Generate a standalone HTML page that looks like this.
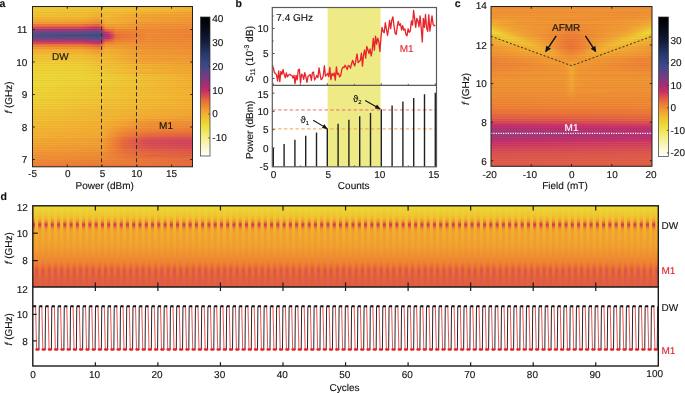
<!DOCTYPE html>
<html lang="en"><head><meta charset="utf-8"><title>Figure</title>
<style>html,body{margin:0;padding:0;background:#fff}svg{display:block}text{font-family:"Liberation Sans",Arial,Helvetica,sans-serif;text-rendering:geometricPrecision;stroke-width:0.13px;paint-order:stroke}</style>
</head><body>
<svg width="685" height="393" viewBox="0 0 685 393">
<defs>
<pattern id="hs" width="8" height="2.42" patternUnits="userSpaceOnUse"><rect width="8" height="1.21" fill="#d64a28" opacity="0.085"/><rect y="1.21" width="8" height="1.21" fill="#fff48a" opacity="0.07"/></pattern>
<linearGradient id="a0" x1="0" x2="1" y1="0" y2="0"><stop offset="0.000" stop-color="#eecc32"/><stop offset="0.435" stop-color="#efc331"/><stop offset="1.000" stop-color="#f2b12e"/></linearGradient>
<linearGradient id="a1" x1="0" x2="1" y1="0" y2="0"><stop offset="0.000" stop-color="#eece32"/><stop offset="0.413" stop-color="#efc231"/><stop offset="0.457" stop-color="#efc731"/><stop offset="1.000" stop-color="#f2b12e"/></linearGradient>
<linearGradient id="a2" x1="0" x2="1" y1="0" y2="0"><stop offset="0.000" stop-color="#efc631"/><stop offset="0.326" stop-color="#efc231"/><stop offset="0.413" stop-color="#f1b92f"/><stop offset="0.457" stop-color="#f0bf30"/><stop offset="1.000" stop-color="#f1a42f"/></linearGradient>
<linearGradient id="a3" x1="0" x2="1" y1="0" y2="0"><stop offset="0.000" stop-color="#efc231"/><stop offset="0.326" stop-color="#f0bd30"/><stop offset="0.413" stop-color="#f1b32f"/><stop offset="0.457" stop-color="#f0bd30"/><stop offset="0.696" stop-color="#f1a42f"/><stop offset="1.000" stop-color="#f09e30"/></linearGradient>
<linearGradient id="a4" x1="0" x2="1" y1="0" y2="0"><stop offset="0.000" stop-color="#f1b92f"/><stop offset="0.304" stop-color="#f1b72f"/><stop offset="0.413" stop-color="#f1a92e"/><stop offset="0.457" stop-color="#f1b82f"/><stop offset="0.696" stop-color="#f09f2f"/><stop offset="1.000" stop-color="#ef9830"/></linearGradient>
<linearGradient id="a5" x1="0" x2="1" y1="0" y2="0"><stop offset="0.000" stop-color="#f2ad2e"/><stop offset="0.304" stop-color="#f1aa2e"/><stop offset="0.413" stop-color="#ef9930"/><stop offset="0.457" stop-color="#f1b32f"/><stop offset="1.000" stop-color="#ef9530"/></linearGradient>
<linearGradient id="a6" x1="0" x2="1" y1="0" y2="0"><stop offset="0.000" stop-color="#f09b30"/><stop offset="0.304" stop-color="#ef9730"/><stop offset="0.413" stop-color="#ed8632"/><stop offset="0.457" stop-color="#f2b02e"/><stop offset="0.522" stop-color="#f2ad2e"/><stop offset="0.696" stop-color="#ef9a30"/><stop offset="1.000" stop-color="#ef9430"/></linearGradient>
<linearGradient id="a7" x1="0" x2="1" y1="0" y2="0"><stop offset="0.000" stop-color="#eb7733"/><stop offset="0.304" stop-color="#ea7334"/><stop offset="0.391" stop-color="#e2613f"/><stop offset="0.413" stop-color="#e16040"/><stop offset="0.435" stop-color="#ec7d33"/><stop offset="0.457" stop-color="#f0a02f"/><stop offset="0.500" stop-color="#f09e30"/><stop offset="0.522" stop-color="#f0a22f"/><stop offset="0.696" stop-color="#ee9331"/><stop offset="1.000" stop-color="#ee8d31"/></linearGradient>
<linearGradient id="a8" x1="0" x2="1" y1="0" y2="0"><stop offset="0.000" stop-color="#d24257"/><stop offset="0.304" stop-color="#cf3d5b"/><stop offset="0.391" stop-color="#c5296a"/><stop offset="0.413" stop-color="#c4296b"/><stop offset="0.435" stop-color="#db5449"/><stop offset="0.457" stop-color="#ed8b31"/><stop offset="0.500" stop-color="#ee8f31"/><stop offset="0.522" stop-color="#ef9830"/><stop offset="0.696" stop-color="#ee8f31"/><stop offset="1.000" stop-color="#ed8a31"/></linearGradient>
<linearGradient id="a9" x1="0" x2="1" y1="0" y2="0"><stop offset="0.000" stop-color="#91337a"/><stop offset="0.304" stop-color="#8d347b"/><stop offset="0.391" stop-color="#7a3a80"/><stop offset="0.413" stop-color="#7a3a80"/><stop offset="0.435" stop-color="#ac2b74"/><stop offset="0.457" stop-color="#e05d42"/><stop offset="0.478" stop-color="#e4653c"/><stop offset="0.500" stop-color="#ea7334"/><stop offset="0.522" stop-color="#ed8432"/><stop offset="0.696" stop-color="#ed8432"/><stop offset="0.717" stop-color="#ed8832"/><stop offset="1.000" stop-color="#ec8032"/></linearGradient>
<linearGradient id="a10" x1="0" x2="1" y1="0" y2="0"><stop offset="0.000" stop-color="#564387"/><stop offset="0.304" stop-color="#524488"/><stop offset="0.391" stop-color="#42488b"/><stop offset="0.413" stop-color="#41498b"/><stop offset="0.435" stop-color="#6e3d82"/><stop offset="0.457" stop-color="#c3266d"/><stop offset="0.478" stop-color="#cc385f"/><stop offset="0.522" stop-color="#eb7733"/><stop offset="0.696" stop-color="#ed8432"/><stop offset="0.717" stop-color="#ed8932"/><stop offset="1.000" stop-color="#ec8132"/></linearGradient>
<linearGradient id="a11" x1="0" x2="1" y1="0" y2="0"><stop offset="0.000" stop-color="#3d498c"/><stop offset="0.413" stop-color="#344481"/><stop offset="0.435" stop-color="#4e4588"/><stop offset="0.457" stop-color="#9d2f77"/><stop offset="0.478" stop-color="#b52871"/><stop offset="0.500" stop-color="#d14158"/><stop offset="0.522" stop-color="#e96d36"/><stop offset="0.696" stop-color="#ed8332"/><stop offset="0.717" stop-color="#ed8932"/><stop offset="1.000" stop-color="#ec8132"/></linearGradient>
<linearGradient id="a12" x1="0" x2="1" y1="0" y2="0"><stop offset="0.000" stop-color="#564387"/><stop offset="0.304" stop-color="#524488"/><stop offset="0.391" stop-color="#42488b"/><stop offset="0.413" stop-color="#3b4a8c"/><stop offset="0.435" stop-color="#614085"/><stop offset="0.457" stop-color="#af2a73"/><stop offset="0.478" stop-color="#c0256f"/><stop offset="0.500" stop-color="#d44654"/><stop offset="0.522" stop-color="#e96f35"/><stop offset="0.696" stop-color="#ed8432"/><stop offset="0.717" stop-color="#ed8932"/><stop offset="1.000" stop-color="#ec8232"/></linearGradient>
<linearGradient id="a13" x1="0" x2="1" y1="0" y2="0"><stop offset="0.000" stop-color="#963179"/><stop offset="0.304" stop-color="#91337a"/><stop offset="0.391" stop-color="#7e397f"/><stop offset="0.413" stop-color="#763b81"/><stop offset="0.435" stop-color="#9f2f77"/><stop offset="0.457" stop-color="#d74d4f"/><stop offset="0.478" stop-color="#da524b"/><stop offset="0.500" stop-color="#e4653d"/><stop offset="0.522" stop-color="#ec7d33"/><stop offset="0.696" stop-color="#ed8832"/><stop offset="1.000" stop-color="#ed8532"/></linearGradient>
<linearGradient id="a14" x1="0" x2="1" y1="0" y2="0"><stop offset="0.000" stop-color="#d14158"/><stop offset="0.304" stop-color="#cf3c5c"/><stop offset="0.391" stop-color="#c4286b"/><stop offset="0.413" stop-color="#bd256f"/><stop offset="0.435" stop-color="#d34555"/><stop offset="0.457" stop-color="#ec7f33"/><stop offset="0.478" stop-color="#ec7e33"/><stop offset="0.500" stop-color="#ec8232"/><stop offset="0.522" stop-color="#ee8e31"/><stop offset="0.696" stop-color="#ee8d31"/><stop offset="1.000" stop-color="#ed8932"/></linearGradient>
<linearGradient id="a15" x1="0" x2="1" y1="0" y2="0"><stop offset="0.000" stop-color="#eb7833"/><stop offset="0.304" stop-color="#ea7434"/><stop offset="0.391" stop-color="#e26140"/><stop offset="0.413" stop-color="#de5946"/><stop offset="0.435" stop-color="#eb7534"/><stop offset="0.457" stop-color="#ef9930"/><stop offset="0.500" stop-color="#ef9530"/><stop offset="0.522" stop-color="#ef9a30"/><stop offset="0.696" stop-color="#ee8f31"/><stop offset="1.000" stop-color="#ed8a31"/></linearGradient>
<linearGradient id="a16" x1="0" x2="1" y1="0" y2="0"><stop offset="0.000" stop-color="#ef9730"/><stop offset="0.304" stop-color="#ee9331"/><stop offset="0.413" stop-color="#ec7d33"/><stop offset="0.435" stop-color="#ee8f31"/><stop offset="0.457" stop-color="#f1a72f"/><stop offset="0.500" stop-color="#f0a12f"/><stop offset="0.696" stop-color="#ee9131"/><stop offset="1.000" stop-color="#ee8c31"/></linearGradient>
<linearGradient id="a17" x1="0" x2="1" y1="0" y2="0"><stop offset="0.000" stop-color="#f2af2e"/><stop offset="0.304" stop-color="#f2ab2e"/><stop offset="0.413" stop-color="#ef9730"/><stop offset="0.457" stop-color="#f2b22e"/><stop offset="0.696" stop-color="#ef9730"/><stop offset="1.000" stop-color="#ee9131"/></linearGradient>
<linearGradient id="a18" x1="0" x2="1" y1="0" y2="0"><stop offset="0.000" stop-color="#f1b82f"/><stop offset="0.304" stop-color="#f1b52f"/><stop offset="0.413" stop-color="#f1a42f"/><stop offset="0.457" stop-color="#f1b42f"/><stop offset="0.696" stop-color="#ef9830"/><stop offset="1.000" stop-color="#ee9131"/></linearGradient>
<linearGradient id="a19" x1="0" x2="1" y1="0" y2="0"><stop offset="0.000" stop-color="#efc231"/><stop offset="0.304" stop-color="#f0c030"/><stop offset="0.413" stop-color="#f2b12e"/><stop offset="0.457" stop-color="#f0ba30"/><stop offset="0.696" stop-color="#f09e30"/><stop offset="1.000" stop-color="#ef9730"/></linearGradient>
<linearGradient id="a20" x1="0" x2="1" y1="0" y2="0"><stop offset="0.000" stop-color="#efc831"/><stop offset="0.326" stop-color="#efc331"/><stop offset="0.413" stop-color="#f1b82f"/><stop offset="0.457" stop-color="#f0bd30"/><stop offset="0.696" stop-color="#f0a02f"/><stop offset="1.000" stop-color="#ef9930"/></linearGradient>
<linearGradient id="a21" x1="0" x2="1" y1="0" y2="0"><stop offset="0.000" stop-color="#eeca32"/><stop offset="0.326" stop-color="#efc531"/><stop offset="0.413" stop-color="#f0ba30"/><stop offset="0.457" stop-color="#f0bd30"/><stop offset="0.696" stop-color="#f09f2f"/><stop offset="1.000" stop-color="#ef9830"/></linearGradient>
<linearGradient id="a22" x1="0" x2="1" y1="0" y2="0"><stop offset="0.000" stop-color="#eecf32"/><stop offset="0.304" stop-color="#eecd32"/><stop offset="0.413" stop-color="#f0bf30"/><stop offset="0.457" stop-color="#f0c130"/><stop offset="0.696" stop-color="#f1a42f"/><stop offset="1.000" stop-color="#f09d30"/></linearGradient>
<linearGradient id="a23" x1="0" x2="1" y1="0" y2="0"><stop offset="0.000" stop-color="#edd433"/><stop offset="0.304" stop-color="#edd233"/><stop offset="0.413" stop-color="#efc531"/><stop offset="1.000" stop-color="#f1a32f"/></linearGradient>
<linearGradient id="a24" x1="0" x2="1" y1="0" y2="0"><stop offset="0.000" stop-color="#edd633"/><stop offset="0.304" stop-color="#edd433"/><stop offset="0.696" stop-color="#f2ac2e"/><stop offset="1.000" stop-color="#f1a52f"/></linearGradient>
<linearGradient id="a25" x1="0" x2="1" y1="0" y2="0"><stop offset="0.000" stop-color="#edd733"/><stop offset="0.326" stop-color="#edd233"/><stop offset="1.000" stop-color="#f1a62f"/></linearGradient>
<linearGradient id="a26" x1="0" x2="1" y1="0" y2="0"><stop offset="0.000" stop-color="#edd633"/><stop offset="0.304" stop-color="#edd433"/><stop offset="0.696" stop-color="#f2ad2e"/><stop offset="1.000" stop-color="#f1a72f"/></linearGradient>
<linearGradient id="a27" x1="0" x2="1" y1="0" y2="0"><stop offset="0.000" stop-color="#ecda34"/><stop offset="0.326" stop-color="#edd633"/><stop offset="1.000" stop-color="#f2ae2e"/></linearGradient>
<linearGradient id="a28" x1="0" x2="1" y1="0" y2="0"><stop offset="0.000" stop-color="#ecdb34"/><stop offset="0.304" stop-color="#ecd934"/><stop offset="1.000" stop-color="#f2b02e"/></linearGradient>
<linearGradient id="a29" x1="0" x2="1" y1="0" y2="0"><stop offset="0.000" stop-color="#ecd934"/><stop offset="0.370" stop-color="#edd133"/><stop offset="1.000" stop-color="#f2ae2e"/></linearGradient>
<linearGradient id="a30" x1="0" x2="1" y1="0" y2="0"><stop offset="0.000" stop-color="#ecdd36"/><stop offset="0.391" stop-color="#edd333"/><stop offset="1.000" stop-color="#f1b22f"/></linearGradient>
<linearGradient id="a31" x1="0" x2="1" y1="0" y2="0"><stop offset="0.000" stop-color="#ecdc34"/><stop offset="0.457" stop-color="#eecd32"/><stop offset="1.000" stop-color="#f2b12e"/></linearGradient>
<linearGradient id="a32" x1="0" x2="1" y1="0" y2="0"><stop offset="0.000" stop-color="#ecd934"/><stop offset="0.457" stop-color="#eeca32"/><stop offset="1.000" stop-color="#f2b02e"/></linearGradient>
<linearGradient id="a33" x1="0" x2="1" y1="0" y2="0"><stop offset="0.000" stop-color="#edd833"/><stop offset="1.000" stop-color="#f2b12e"/></linearGradient>
<linearGradient id="a34" x1="0" x2="1" y1="0" y2="0"><stop offset="0.000" stop-color="#edd733"/><stop offset="0.457" stop-color="#eeca32"/><stop offset="1.000" stop-color="#f2b22e"/></linearGradient>
<linearGradient id="a35" x1="0" x2="1" y1="0" y2="0"><stop offset="0.000" stop-color="#edd433"/><stop offset="0.457" stop-color="#efc831"/><stop offset="1.000" stop-color="#f2b12e"/></linearGradient>
<linearGradient id="a36" x1="0" x2="1" y1="0" y2="0"><stop offset="0.000" stop-color="#edd733"/><stop offset="1.000" stop-color="#f1b42f"/></linearGradient>
<linearGradient id="a37" x1="0" x2="1" y1="0" y2="0"><stop offset="0.000" stop-color="#edd133"/><stop offset="1.000" stop-color="#f2ae2e"/></linearGradient>
<linearGradient id="a38" x1="0" x2="1" y1="0" y2="0"><stop offset="0.000" stop-color="#edd233"/><stop offset="1.000" stop-color="#f2b12e"/></linearGradient>
<linearGradient id="a39" x1="0" x2="1" y1="0" y2="0"><stop offset="0.000" stop-color="#eed032"/><stop offset="1.000" stop-color="#f2b12e"/></linearGradient>
<linearGradient id="a40" x1="0" x2="1" y1="0" y2="0"><stop offset="0.000" stop-color="#eecb32"/><stop offset="1.000" stop-color="#f2ab2e"/></linearGradient>
<linearGradient id="a41" x1="0" x2="1" y1="0" y2="0"><stop offset="0.000" stop-color="#efc731"/><stop offset="1.000" stop-color="#f1a82f"/></linearGradient>
<linearGradient id="a42" x1="0" x2="1" y1="0" y2="0"><stop offset="0.000" stop-color="#efc731"/><stop offset="1.000" stop-color="#f1a72f"/></linearGradient>
<linearGradient id="a43" x1="0" x2="1" y1="0" y2="0"><stop offset="0.000" stop-color="#efc631"/><stop offset="1.000" stop-color="#f1a42f"/></linearGradient>
<linearGradient id="a44" x1="0" x2="1" y1="0" y2="0"><stop offset="0.000" stop-color="#f0c130"/><stop offset="0.478" stop-color="#f1b62f"/><stop offset="1.000" stop-color="#f09d30"/></linearGradient>
<linearGradient id="a45" x1="0" x2="1" y1="0" y2="0"><stop offset="0.000" stop-color="#f0bf30"/><stop offset="0.457" stop-color="#f1b62f"/><stop offset="0.717" stop-color="#f09b30"/><stop offset="1.000" stop-color="#ef9730"/></linearGradient>
<linearGradient id="a46" x1="0" x2="1" y1="0" y2="0"><stop offset="0.000" stop-color="#f0ba30"/><stop offset="0.457" stop-color="#f2b02e"/><stop offset="0.717" stop-color="#ee9131"/><stop offset="1.000" stop-color="#ee8d31"/></linearGradient>
<linearGradient id="a47" x1="0" x2="1" y1="0" y2="0"><stop offset="0.000" stop-color="#f1b92f"/><stop offset="0.457" stop-color="#f2af2e"/><stop offset="0.717" stop-color="#ee8c31"/><stop offset="1.000" stop-color="#ed8832"/></linearGradient>
<linearGradient id="a48" x1="0" x2="1" y1="0" y2="0"><stop offset="0.000" stop-color="#f1b72f"/><stop offset="0.435" stop-color="#f2b02e"/><stop offset="0.587" stop-color="#ee9231"/><stop offset="1.000" stop-color="#ec8132"/></linearGradient>
<linearGradient id="a49" x1="0" x2="1" y1="0" y2="0"><stop offset="0.000" stop-color="#f1b32f"/><stop offset="0.435" stop-color="#f2ab2e"/><stop offset="0.609" stop-color="#ed8532"/><stop offset="1.000" stop-color="#eb7434"/></linearGradient>
<linearGradient id="a50" x1="0" x2="1" y1="0" y2="0"><stop offset="0.000" stop-color="#f1b32f"/><stop offset="0.435" stop-color="#f2ac2e"/><stop offset="0.565" stop-color="#ed8532"/><stop offset="0.739" stop-color="#ea7134"/><stop offset="1.000" stop-color="#e76b38"/></linearGradient>
<linearGradient id="a51" x1="0" x2="1" y1="0" y2="0"><stop offset="0.000" stop-color="#f2b22e"/><stop offset="0.435" stop-color="#f1aa2e"/><stop offset="0.565" stop-color="#ec7d33"/><stop offset="0.652" stop-color="#ea7034"/><stop offset="0.717" stop-color="#e4653c"/><stop offset="1.000" stop-color="#e05d42"/></linearGradient>
<linearGradient id="a52" x1="0" x2="1" y1="0" y2="0"><stop offset="0.000" stop-color="#f2ac2e"/><stop offset="0.435" stop-color="#f1a32f"/><stop offset="0.565" stop-color="#e96f35"/><stop offset="0.717" stop-color="#da524b"/><stop offset="1.000" stop-color="#d64a51"/></linearGradient>
<linearGradient id="a53" x1="0" x2="1" y1="0" y2="0"><stop offset="0.000" stop-color="#f1a82f"/><stop offset="0.435" stop-color="#f09f2f"/><stop offset="0.543" stop-color="#ea7234"/><stop offset="0.565" stop-color="#e5663c"/><stop offset="0.717" stop-color="#d44753"/><stop offset="1.000" stop-color="#d03e5a"/></linearGradient>
<linearGradient id="a54" x1="0" x2="1" y1="0" y2="0"><stop offset="0.000" stop-color="#f1a62f"/><stop offset="0.435" stop-color="#f09e30"/><stop offset="0.543" stop-color="#ea7034"/><stop offset="0.565" stop-color="#e4643d"/><stop offset="0.717" stop-color="#d34555"/><stop offset="1.000" stop-color="#cf3c5b"/></linearGradient>
<linearGradient id="a55" x1="0" x2="1" y1="0" y2="0"><stop offset="0.000" stop-color="#f1a42f"/><stop offset="0.435" stop-color="#f09c30"/><stop offset="0.543" stop-color="#ea7134"/><stop offset="0.565" stop-color="#e5663b"/><stop offset="0.717" stop-color="#d64a51"/><stop offset="1.000" stop-color="#d24257"/></linearGradient>
<linearGradient id="a56" x1="0" x2="1" y1="0" y2="0"><stop offset="0.000" stop-color="#f09d30"/><stop offset="0.435" stop-color="#ef9630"/><stop offset="0.543" stop-color="#ea7134"/><stop offset="0.565" stop-color="#e5673b"/><stop offset="0.717" stop-color="#d84e4e"/><stop offset="1.000" stop-color="#d44654"/></linearGradient>
<linearGradient id="a57" x1="0" x2="1" y1="0" y2="0"><stop offset="0.000" stop-color="#f09d30"/><stop offset="0.435" stop-color="#ef9630"/><stop offset="0.565" stop-color="#ea7034"/><stop offset="0.739" stop-color="#df5a45"/><stop offset="1.000" stop-color="#dc5449"/></linearGradient>
<linearGradient id="a58" x1="0" x2="1" y1="0" y2="0"><stop offset="0.000" stop-color="#ef9331"/><stop offset="0.435" stop-color="#ee8d31"/><stop offset="0.587" stop-color="#e76a38"/><stop offset="1.000" stop-color="#dc5548"/></linearGradient>
<linearGradient id="a59" x1="0" x2="1" y1="0" y2="0"><stop offset="0.000" stop-color="#ee8f31"/><stop offset="0.435" stop-color="#ed8932"/><stop offset="0.717" stop-color="#e26040"/><stop offset="1.000" stop-color="#df5c44"/></linearGradient>
<linearGradient id="a60" x1="0" x2="1" y1="0" y2="0"><stop offset="0.000" stop-color="#ee8f31"/><stop offset="0.457" stop-color="#ed8832"/><stop offset="0.587" stop-color="#ea7334"/><stop offset="1.000" stop-color="#e4653c"/></linearGradient>
<linearGradient id="a61" x1="0" x2="1" y1="0" y2="0"><stop offset="0.000" stop-color="#ed8732"/><stop offset="0.457" stop-color="#ec8032"/><stop offset="1.000" stop-color="#e3643d"/></linearGradient>
<linearGradient id="a62" x1="0" x2="1" y1="0" y2="0"><stop offset="0.000" stop-color="#ed8432"/><stop offset="0.478" stop-color="#ec7e33"/><stop offset="1.000" stop-color="#e76a39"/></linearGradient>
<linearGradient id="a63" x1="0" x2="1" y1="0" y2="0"><stop offset="0.000" stop-color="#ec7c33"/><stop offset="1.000" stop-color="#e5673b"/></linearGradient>
<linearGradient id="cba" x1="0" x2="0" y1="0" y2="1"><stop offset="0.000" stop-color="#000000"/><stop offset="0.033" stop-color="#020308"/><stop offset="0.067" stop-color="#050813"/><stop offset="0.100" stop-color="#090d1e"/><stop offset="0.133" stop-color="#0e142b"/><stop offset="0.167" stop-color="#121a37"/><stop offset="0.200" stop-color="#192348"/><stop offset="0.233" stop-color="#212e5a"/><stop offset="0.267" stop-color="#28386d"/><stop offset="0.300" stop-color="#303f79"/><stop offset="0.333" stop-color="#374686"/><stop offset="0.367" stop-color="#47478a"/><stop offset="0.400" stop-color="#604185"/><stop offset="0.433" stop-color="#783a80"/><stop offset="0.467" stop-color="#94327a"/><stop offset="0.500" stop-color="#b02a72"/><stop offset="0.533" stop-color="#c82f66"/><stop offset="0.567" stop-color="#d74c4f"/><stop offset="0.600" stop-color="#e76a39"/><stop offset="0.633" stop-color="#ec8332"/><stop offset="0.667" stop-color="#f09b30"/><stop offset="0.700" stop-color="#f1b22f"/><stop offset="0.733" stop-color="#efc431"/><stop offset="0.767" stop-color="#edd633"/><stop offset="0.800" stop-color="#eee149"/><stop offset="0.833" stop-color="#f2e869"/><stop offset="0.867" stop-color="#f5ef89"/><stop offset="0.900" stop-color="#f8f3a9"/><stop offset="0.933" stop-color="#faf7c9"/><stop offset="0.967" stop-color="#fdfbe4"/><stop offset="1.000" stop-color="#ffffff"/></linearGradient>
<marker id="ah2" viewBox="0 0 10 10" refX="8" refY="5" markerWidth="4.4" markerHeight="4.2" orient="auto"><path d="M0,0.3 L10,5 L0,9.7 Z" fill="#111"/></marker>
<marker id="ah" viewBox="0 0 10 10" refX="9" refY="5" markerWidth="5" markerHeight="5" orient="auto"><path d="M0,0.8 L10,5 L0,9.2 Z" fill="#111"/></marker>
<linearGradient id="c0" x1="0" x2="1" y1="0" y2="0"><stop offset="0.000" stop-color="#ee8c31"/><stop offset="1.000" stop-color="#ee8c31"/></linearGradient>
<linearGradient id="c1" x1="0" x2="1" y1="0" y2="0"><stop offset="0.000" stop-color="#ee9231"/><stop offset="1.000" stop-color="#ee9231"/></linearGradient>
<linearGradient id="c2" x1="0" x2="1" y1="0" y2="0"><stop offset="0.000" stop-color="#ee9131"/><stop offset="0.925" stop-color="#ee8d31"/><stop offset="1.000" stop-color="#ee9231"/></linearGradient>
<linearGradient id="c3" x1="0" x2="1" y1="0" y2="0"><stop offset="0.000" stop-color="#ef9530"/><stop offset="0.900" stop-color="#ee8e31"/><stop offset="1.000" stop-color="#ef9530"/></linearGradient>
<linearGradient id="c4" x1="0" x2="1" y1="0" y2="0"><stop offset="0.000" stop-color="#ef9730"/><stop offset="0.900" stop-color="#ee8e31"/><stop offset="1.000" stop-color="#ef9830"/></linearGradient>
<linearGradient id="c5" x1="0" x2="1" y1="0" y2="0"><stop offset="0.000" stop-color="#f1a22f"/><stop offset="0.525" stop-color="#ed8a31"/><stop offset="0.975" stop-color="#f09e30"/><stop offset="1.000" stop-color="#f1a32f"/></linearGradient>
<linearGradient id="c6" x1="0" x2="1" y1="0" y2="0"><stop offset="0.000" stop-color="#f2ad2e"/><stop offset="0.175" stop-color="#ef9430"/><stop offset="0.875" stop-color="#ef9830"/><stop offset="1.000" stop-color="#f2ad2e"/></linearGradient>
<linearGradient id="c7" x1="0" x2="1" y1="0" y2="0"><stop offset="0.000" stop-color="#f1b52f"/><stop offset="0.075" stop-color="#f0a02f"/><stop offset="0.525" stop-color="#ed8832"/><stop offset="0.900" stop-color="#f09c30"/><stop offset="1.000" stop-color="#f1b52f"/></linearGradient>
<linearGradient id="c8" x1="0" x2="1" y1="0" y2="0"><stop offset="0.000" stop-color="#efc731"/><stop offset="0.050" stop-color="#f1b22f"/><stop offset="0.175" stop-color="#ef9930"/><stop offset="0.575" stop-color="#ee8b31"/><stop offset="0.850" stop-color="#f09c30"/><stop offset="0.975" stop-color="#f0bb30"/><stop offset="1.000" stop-color="#efc831"/></linearGradient>
<linearGradient id="c9" x1="0" x2="1" y1="0" y2="0"><stop offset="0.000" stop-color="#ecdc35"/><stop offset="0.050" stop-color="#f0bf30"/><stop offset="0.125" stop-color="#f1a52f"/><stop offset="0.500" stop-color="#ed8532"/><stop offset="0.825" stop-color="#f09c30"/><stop offset="0.925" stop-color="#f1b52f"/><stop offset="0.975" stop-color="#eecd32"/><stop offset="1.000" stop-color="#ecdc35"/></linearGradient>
<linearGradient id="c10" x1="0" x2="1" y1="0" y2="0"><stop offset="0.000" stop-color="#edd733"/><stop offset="0.025" stop-color="#ecdc34"/><stop offset="0.050" stop-color="#edd333"/><stop offset="0.100" stop-color="#f1b82f"/><stop offset="0.200" stop-color="#f09d30"/><stop offset="0.500" stop-color="#ec8132"/><stop offset="0.825" stop-color="#f0a22f"/><stop offset="0.900" stop-color="#f1b92f"/><stop offset="0.950" stop-color="#edd333"/><stop offset="0.975" stop-color="#ecdc34"/><stop offset="1.000" stop-color="#edd733"/></linearGradient>
<linearGradient id="c11" x1="0" x2="1" y1="0" y2="0"><stop offset="0.000" stop-color="#f0bf30"/><stop offset="0.050" stop-color="#edd133"/><stop offset="0.075" stop-color="#edd233"/><stop offset="0.175" stop-color="#f1a82f"/><stop offset="0.275" stop-color="#ef9530"/><stop offset="0.500" stop-color="#eb7a33"/><stop offset="0.800" stop-color="#f0a22f"/><stop offset="0.875" stop-color="#f0bb30"/><stop offset="0.925" stop-color="#edd233"/><stop offset="0.950" stop-color="#edd233"/><stop offset="1.000" stop-color="#f0c030"/></linearGradient>
<linearGradient id="c12" x1="0" x2="1" y1="0" y2="0"><stop offset="0.000" stop-color="#f1b42f"/><stop offset="0.100" stop-color="#eecf32"/><stop offset="0.125" stop-color="#eecc32"/><stop offset="0.225" stop-color="#f1a72f"/><stop offset="0.475" stop-color="#eb7b33"/><stop offset="0.525" stop-color="#eb7b33"/><stop offset="0.775" stop-color="#f1a82f"/><stop offset="0.850" stop-color="#f0c130"/><stop offset="0.875" stop-color="#eecc32"/><stop offset="0.900" stop-color="#eecf32"/><stop offset="1.000" stop-color="#f1b52f"/></linearGradient>
<linearGradient id="c13" x1="0" x2="1" y1="0" y2="0"><stop offset="0.000" stop-color="#f1a92e"/><stop offset="0.125" stop-color="#efc531"/><stop offset="0.150" stop-color="#efc731"/><stop offset="0.325" stop-color="#ef9830"/><stop offset="0.425" stop-color="#ec8332"/><stop offset="0.475" stop-color="#eb7533"/><stop offset="0.525" stop-color="#eb7533"/><stop offset="0.625" stop-color="#ee9031"/><stop offset="0.725" stop-color="#f0a22f"/><stop offset="0.825" stop-color="#efc331"/><stop offset="0.850" stop-color="#efc731"/><stop offset="0.875" stop-color="#efc531"/><stop offset="1.000" stop-color="#f1aa2e"/></linearGradient>
<linearGradient id="c14" x1="0" x2="1" y1="0" y2="0"><stop offset="0.000" stop-color="#f1a52f"/><stop offset="0.175" stop-color="#efc331"/><stop offset="0.200" stop-color="#efc431"/><stop offset="0.475" stop-color="#eb7633"/><stop offset="0.500" stop-color="#ea7334"/><stop offset="0.550" stop-color="#ec7d33"/><stop offset="0.800" stop-color="#efc431"/><stop offset="1.000" stop-color="#f1a52f"/></linearGradient>
<linearGradient id="c15" x1="0" x2="1" y1="0" y2="0"><stop offset="0.000" stop-color="#f09e30"/><stop offset="0.225" stop-color="#f0bd30"/><stop offset="0.250" stop-color="#f0bc30"/><stop offset="0.475" stop-color="#eb7434"/><stop offset="0.500" stop-color="#ea7134"/><stop offset="0.525" stop-color="#eb7434"/><stop offset="0.750" stop-color="#f0bc30"/><stop offset="0.775" stop-color="#f0be30"/><stop offset="1.000" stop-color="#f09e30"/></linearGradient>
<linearGradient id="c16" x1="0" x2="1" y1="0" y2="0"><stop offset="0.000" stop-color="#ef9430"/><stop offset="0.175" stop-color="#f1a52f"/><stop offset="0.250" stop-color="#f1b32f"/><stop offset="0.300" stop-color="#f2b12e"/><stop offset="0.475" stop-color="#ea7234"/><stop offset="0.500" stop-color="#e96e35"/><stop offset="0.575" stop-color="#ec8332"/><stop offset="0.700" stop-color="#f2b12e"/><stop offset="0.725" stop-color="#f1b52f"/><stop offset="1.000" stop-color="#ef9530"/></linearGradient>
<linearGradient id="c17" x1="0" x2="1" y1="0" y2="0"><stop offset="0.000" stop-color="#ef9530"/><stop offset="0.300" stop-color="#f1b32f"/><stop offset="0.350" stop-color="#f2ad2e"/><stop offset="0.450" stop-color="#ed8432"/><stop offset="0.500" stop-color="#eb7933"/><stop offset="0.550" stop-color="#ed8432"/><stop offset="0.650" stop-color="#f2ad2e"/><stop offset="0.700" stop-color="#f1b32f"/><stop offset="1.000" stop-color="#ef9630"/></linearGradient>
<linearGradient id="c18" x1="0" x2="1" y1="0" y2="0"><stop offset="0.000" stop-color="#ee9131"/><stop offset="0.350" stop-color="#f2ad2e"/><stop offset="0.375" stop-color="#f1a92f"/><stop offset="0.475" stop-color="#ed8532"/><stop offset="0.500" stop-color="#ec8132"/><stop offset="0.550" stop-color="#ee8c31"/><stop offset="0.625" stop-color="#f1a92e"/><stop offset="0.650" stop-color="#f2ad2e"/><stop offset="1.000" stop-color="#ee9231"/></linearGradient>
<linearGradient id="c19" x1="0" x2="1" y1="0" y2="0"><stop offset="0.000" stop-color="#ee8e31"/><stop offset="0.375" stop-color="#f1a62f"/><stop offset="0.400" stop-color="#f1a42f"/><stop offset="0.475" stop-color="#ee8f31"/><stop offset="0.500" stop-color="#ee8b31"/><stop offset="0.600" stop-color="#f1a42f"/><stop offset="0.675" stop-color="#f1a52f"/><stop offset="1.000" stop-color="#ee8e31"/></linearGradient>
<linearGradient id="c20" x1="0" x2="1" y1="0" y2="0"><stop offset="0.000" stop-color="#ed8532"/><stop offset="0.400" stop-color="#f09c30"/><stop offset="0.500" stop-color="#ee9031"/><stop offset="0.625" stop-color="#f09d30"/><stop offset="0.975" stop-color="#ed8532"/><stop offset="1.000" stop-color="#ed8632"/></linearGradient>
<linearGradient id="c21" x1="0" x2="1" y1="0" y2="0"><stop offset="0.000" stop-color="#ec8232"/><stop offset="0.400" stop-color="#ef9930"/><stop offset="0.725" stop-color="#ee9331"/><stop offset="0.950" stop-color="#ec8132"/><stop offset="1.000" stop-color="#ec8332"/></linearGradient>
<linearGradient id="c22" x1="0" x2="1" y1="0" y2="0"><stop offset="0.000" stop-color="#ec8332"/><stop offset="0.150" stop-color="#ed8532"/><stop offset="0.400" stop-color="#ef9a30"/><stop offset="0.475" stop-color="#f09c30"/><stop offset="0.500" stop-color="#f0a12f"/><stop offset="0.575" stop-color="#ef9930"/><stop offset="0.950" stop-color="#ec8232"/><stop offset="1.000" stop-color="#ed8432"/></linearGradient>
<linearGradient id="c23" x1="0" x2="1" y1="0" y2="0"><stop offset="0.000" stop-color="#ec7f33"/><stop offset="0.175" stop-color="#ec8332"/><stop offset="0.450" stop-color="#ef9530"/><stop offset="0.475" stop-color="#ef9930"/><stop offset="0.500" stop-color="#f0a22f"/><stop offset="0.525" stop-color="#ef9930"/><stop offset="0.950" stop-color="#ec7e33"/><stop offset="1.000" stop-color="#ec8032"/></linearGradient>
<linearGradient id="c24" x1="0" x2="1" y1="0" y2="0"><stop offset="0.000" stop-color="#ec8332"/><stop offset="0.450" stop-color="#ef9530"/><stop offset="0.475" stop-color="#f09b30"/><stop offset="0.500" stop-color="#f1a82f"/><stop offset="0.525" stop-color="#f09b30"/><stop offset="0.550" stop-color="#ef9530"/><stop offset="0.950" stop-color="#ec8232"/><stop offset="1.000" stop-color="#ed8432"/></linearGradient>
<linearGradient id="c25" x1="0" x2="1" y1="0" y2="0"><stop offset="0.000" stop-color="#ed8632"/><stop offset="0.450" stop-color="#ef9331"/><stop offset="0.475" stop-color="#ef9930"/><stop offset="0.500" stop-color="#f1a82f"/><stop offset="0.525" stop-color="#ef9a30"/><stop offset="0.550" stop-color="#ef9431"/><stop offset="1.000" stop-color="#ed8732"/></linearGradient>
<linearGradient id="c26" x1="0" x2="1" y1="0" y2="0"><stop offset="0.000" stop-color="#ee8d31"/><stop offset="0.450" stop-color="#ef9630"/><stop offset="0.475" stop-color="#f09c30"/><stop offset="0.500" stop-color="#f2ab2e"/><stop offset="0.525" stop-color="#f09c30"/><stop offset="0.550" stop-color="#ef9630"/><stop offset="1.000" stop-color="#ee8e31"/></linearGradient>
<linearGradient id="c27" x1="0" x2="1" y1="0" y2="0"><stop offset="0.000" stop-color="#ed8b31"/><stop offset="0.450" stop-color="#ee9131"/><stop offset="0.475" stop-color="#ef9730"/><stop offset="0.500" stop-color="#f1a52f"/><stop offset="0.525" stop-color="#ef9730"/><stop offset="0.550" stop-color="#ee9131"/><stop offset="1.000" stop-color="#ee8c31"/></linearGradient>
<linearGradient id="c28" x1="0" x2="1" y1="0" y2="0"><stop offset="0.000" stop-color="#ee9031"/><stop offset="0.450" stop-color="#ef9431"/><stop offset="0.475" stop-color="#ef9930"/><stop offset="0.500" stop-color="#f1a82f"/><stop offset="0.525" stop-color="#ef9930"/><stop offset="0.575" stop-color="#ef9331"/><stop offset="1.000" stop-color="#ee9131"/></linearGradient>
<linearGradient id="c29" x1="0" x2="1" y1="0" y2="0"><stop offset="0.000" stop-color="#ee9131"/><stop offset="0.450" stop-color="#ef9431"/><stop offset="0.475" stop-color="#ef9a30"/><stop offset="0.500" stop-color="#f1a82f"/><stop offset="0.525" stop-color="#ef9a30"/><stop offset="0.550" stop-color="#ef9431"/><stop offset="1.000" stop-color="#ee9231"/></linearGradient>
<linearGradient id="c30" x1="0" x2="1" y1="0" y2="0"><stop offset="0.000" stop-color="#ee9231"/><stop offset="0.450" stop-color="#ef9431"/><stop offset="0.475" stop-color="#ef9a30"/><stop offset="0.500" stop-color="#f1a82f"/><stop offset="0.525" stop-color="#ef9a30"/><stop offset="0.550" stop-color="#ef9431"/><stop offset="1.000" stop-color="#ef9331"/></linearGradient>
<linearGradient id="c31" x1="0" x2="1" y1="0" y2="0"><stop offset="0.000" stop-color="#ee9131"/><stop offset="0.450" stop-color="#ee9231"/><stop offset="0.475" stop-color="#ef9830"/><stop offset="0.500" stop-color="#f1a62f"/><stop offset="0.525" stop-color="#ef9830"/><stop offset="0.600" stop-color="#ee9231"/><stop offset="1.000" stop-color="#ee9231"/></linearGradient>
<linearGradient id="c32" x1="0" x2="1" y1="0" y2="0"><stop offset="0.000" stop-color="#ee8d31"/><stop offset="0.450" stop-color="#ee8f31"/><stop offset="0.475" stop-color="#ef9530"/><stop offset="0.500" stop-color="#f1a32f"/><stop offset="0.525" stop-color="#ef9530"/><stop offset="0.550" stop-color="#ee8f31"/><stop offset="1.000" stop-color="#ee8f31"/></linearGradient>
<linearGradient id="c33" x1="0" x2="1" y1="0" y2="0"><stop offset="0.000" stop-color="#ee8f31"/><stop offset="0.450" stop-color="#ee9031"/><stop offset="0.475" stop-color="#ef9530"/><stop offset="0.500" stop-color="#f0a12f"/><stop offset="0.525" stop-color="#ef9530"/><stop offset="1.000" stop-color="#ee9031"/></linearGradient>
<linearGradient id="c34" x1="0" x2="1" y1="0" y2="0"><stop offset="0.000" stop-color="#ed8b31"/><stop offset="0.450" stop-color="#ee8c31"/><stop offset="0.475" stop-color="#ee9031"/><stop offset="0.500" stop-color="#ef9a30"/><stop offset="0.525" stop-color="#ee9031"/><stop offset="1.000" stop-color="#ee8c31"/></linearGradient>
<linearGradient id="c35" x1="0" x2="1" y1="0" y2="0"><stop offset="0.000" stop-color="#ed8a32"/><stop offset="0.450" stop-color="#ee8c31"/><stop offset="0.500" stop-color="#ef9630"/><stop offset="0.550" stop-color="#ee8c31"/><stop offset="1.000" stop-color="#ee8c31"/></linearGradient>
<linearGradient id="c36" x1="0" x2="1" y1="0" y2="0"><stop offset="0.000" stop-color="#ed8632"/><stop offset="0.475" stop-color="#ed8a31"/><stop offset="0.500" stop-color="#ee8f31"/><stop offset="0.550" stop-color="#ed8832"/><stop offset="1.000" stop-color="#ed8832"/></linearGradient>
<linearGradient id="c37" x1="0" x2="1" y1="0" y2="0"><stop offset="0.000" stop-color="#ed8432"/><stop offset="0.475" stop-color="#ed8832"/><stop offset="0.500" stop-color="#ed8b31"/><stop offset="1.000" stop-color="#ed8732"/></linearGradient>
<linearGradient id="c38" x1="0" x2="1" y1="0" y2="0"><stop offset="0.000" stop-color="#ec8332"/><stop offset="1.000" stop-color="#ed8632"/></linearGradient>
<linearGradient id="c39" x1="0" x2="1" y1="0" y2="0"><stop offset="0.000" stop-color="#ed8432"/><stop offset="1.000" stop-color="#ed8732"/></linearGradient>
<linearGradient id="c40" x1="0" x2="1" y1="0" y2="0"><stop offset="0.000" stop-color="#eb7b33"/><stop offset="1.000" stop-color="#ec7f33"/></linearGradient>
<linearGradient id="c41" x1="0" x2="1" y1="0" y2="0"><stop offset="0.000" stop-color="#eb7434"/><stop offset="1.000" stop-color="#eb7933"/></linearGradient>
<linearGradient id="c42" x1="0" x2="1" y1="0" y2="0"><stop offset="0.000" stop-color="#e96e35"/><stop offset="1.000" stop-color="#eb7434"/></linearGradient>
<linearGradient id="c43" x1="0" x2="1" y1="0" y2="0"><stop offset="0.000" stop-color="#e4643d"/><stop offset="1.000" stop-color="#e86c37"/></linearGradient>
<linearGradient id="c44" x1="0" x2="1" y1="0" y2="0"><stop offset="0.000" stop-color="#e05c43"/><stop offset="1.000" stop-color="#e5663c"/></linearGradient>
<linearGradient id="c45" x1="0" x2="1" y1="0" y2="0"><stop offset="0.000" stop-color="#d84e4e"/><stop offset="1.000" stop-color="#de5a45"/></linearGradient>
<linearGradient id="c46" x1="0" x2="1" y1="0" y2="0"><stop offset="0.000" stop-color="#d03f5a"/><stop offset="1.000" stop-color="#d74d4f"/></linearGradient>
<linearGradient id="c47" x1="0" x2="1" y1="0" y2="0"><stop offset="0.000" stop-color="#c2256e"/><stop offset="1.000" stop-color="#cb3660"/></linearGradient>
<linearGradient id="c48" x1="0" x2="1" y1="0" y2="0"><stop offset="0.000" stop-color="#b12972"/><stop offset="0.400" stop-color="#c2246e"/><stop offset="1.000" stop-color="#c3276c"/></linearGradient>
<linearGradient id="c49" x1="0" x2="1" y1="0" y2="0"><stop offset="0.000" stop-color="#9f2f77"/><stop offset="0.250" stop-color="#a62c75"/><stop offset="1.000" stop-color="#b62871"/></linearGradient>
<linearGradient id="c50" x1="0" x2="1" y1="0" y2="0"><stop offset="0.000" stop-color="#963279"/><stop offset="0.200" stop-color="#983178"/><stop offset="0.775" stop-color="#b22972"/><stop offset="1.000" stop-color="#ae2a73"/></linearGradient>
<linearGradient id="c51" x1="0" x2="1" y1="0" y2="0"><stop offset="0.000" stop-color="#993178"/><stop offset="1.000" stop-color="#b02a73"/></linearGradient>
<linearGradient id="c52" x1="0" x2="1" y1="0" y2="0"><stop offset="0.000" stop-color="#a42d76"/><stop offset="1.000" stop-color="#b82771"/></linearGradient>
<linearGradient id="c53" x1="0" x2="1" y1="0" y2="0"><stop offset="0.000" stop-color="#b72771"/><stop offset="1.000" stop-color="#c52a6a"/></linearGradient>
<linearGradient id="c54" x1="0" x2="1" y1="0" y2="0"><stop offset="0.000" stop-color="#c52b69"/><stop offset="1.000" stop-color="#cd395e"/></linearGradient>
<linearGradient id="c55" x1="0" x2="1" y1="0" y2="0"><stop offset="0.000" stop-color="#c93164"/><stop offset="1.000" stop-color="#cf3d5b"/></linearGradient>
<linearGradient id="c56" x1="0" x2="1" y1="0" y2="0"><stop offset="0.000" stop-color="#ce3a5d"/><stop offset="1.000" stop-color="#d34456"/></linearGradient>
<linearGradient id="c57" x1="0" x2="1" y1="0" y2="0"><stop offset="0.000" stop-color="#d24356"/><stop offset="1.000" stop-color="#d74b50"/></linearGradient>
<linearGradient id="c58" x1="0" x2="1" y1="0" y2="0"><stop offset="0.000" stop-color="#d64a51"/><stop offset="1.000" stop-color="#d9504c"/></linearGradient>
<linearGradient id="c59" x1="0" x2="1" y1="0" y2="0"><stop offset="0.000" stop-color="#d84d4e"/><stop offset="1.000" stop-color="#db534a"/></linearGradient>
<linearGradient id="c60" x1="0" x2="1" y1="0" y2="0"><stop offset="0.000" stop-color="#da524b"/><stop offset="1.000" stop-color="#dd5747"/></linearGradient>
<linearGradient id="c61" x1="0" x2="1" y1="0" y2="0"><stop offset="0.000" stop-color="#db534a"/><stop offset="1.000" stop-color="#dd5747"/></linearGradient>
<linearGradient id="c62" x1="0" x2="1" y1="0" y2="0"><stop offset="0.000" stop-color="#de5946"/><stop offset="1.000" stop-color="#e05d43"/></linearGradient>
<linearGradient id="c63" x1="0" x2="1" y1="0" y2="0"><stop offset="0.000" stop-color="#db544a"/><stop offset="1.000" stop-color="#dd5747"/></linearGradient>
<linearGradient id="cbc" x1="0" x2="0" y1="0" y2="1"><stop offset="0.000" stop-color="#000000"/><stop offset="0.033" stop-color="#020308"/><stop offset="0.067" stop-color="#050813"/><stop offset="0.100" stop-color="#090d1e"/><stop offset="0.133" stop-color="#0e142b"/><stop offset="0.167" stop-color="#121a37"/><stop offset="0.200" stop-color="#192348"/><stop offset="0.233" stop-color="#212e5a"/><stop offset="0.267" stop-color="#28386d"/><stop offset="0.300" stop-color="#303f79"/><stop offset="0.333" stop-color="#374686"/><stop offset="0.367" stop-color="#47478a"/><stop offset="0.400" stop-color="#604185"/><stop offset="0.433" stop-color="#783a80"/><stop offset="0.467" stop-color="#94327a"/><stop offset="0.500" stop-color="#b02a72"/><stop offset="0.533" stop-color="#c82f66"/><stop offset="0.567" stop-color="#d74c4f"/><stop offset="0.600" stop-color="#e76a39"/><stop offset="0.633" stop-color="#ec8332"/><stop offset="0.667" stop-color="#f09b30"/><stop offset="0.700" stop-color="#f1b22f"/><stop offset="0.733" stop-color="#efc431"/><stop offset="0.767" stop-color="#edd633"/><stop offset="0.800" stop-color="#eee149"/><stop offset="0.833" stop-color="#f2e869"/><stop offset="0.867" stop-color="#f5ef89"/><stop offset="0.900" stop-color="#f8f3a9"/><stop offset="0.933" stop-color="#faf7c9"/><stop offset="0.967" stop-color="#fdfbe4"/><stop offset="1.000" stop-color="#ffffff"/></linearGradient>
<linearGradient id="d0" x1="0" x2="0" y1="0" y2="1"><stop offset="0.000" stop-color="#ecd834"/><stop offset="0.023" stop-color="#edd533"/><stop offset="0.045" stop-color="#edd133"/><stop offset="0.068" stop-color="#eecd32"/><stop offset="0.091" stop-color="#efc931"/><stop offset="0.114" stop-color="#efc431"/><stop offset="0.136" stop-color="#f0bc30"/><stop offset="0.159" stop-color="#f1b22f"/><stop offset="0.182" stop-color="#f09d30"/><stop offset="0.205" stop-color="#eb7633"/><stop offset="0.227" stop-color="#cd395e"/><stop offset="0.250" stop-color="#da514c"/><stop offset="0.273" stop-color="#ec8232"/><stop offset="0.295" stop-color="#ef9730"/><stop offset="0.318" stop-color="#f09e30"/><stop offset="0.341" stop-color="#f0a02f"/><stop offset="0.364" stop-color="#f0a02f"/><stop offset="0.386" stop-color="#f0a02f"/><stop offset="0.409" stop-color="#f0a02f"/><stop offset="0.432" stop-color="#f09f2f"/><stop offset="0.455" stop-color="#f09e30"/><stop offset="0.477" stop-color="#f09d30"/><stop offset="0.500" stop-color="#f09c30"/><stop offset="0.523" stop-color="#ef9930"/><stop offset="0.545" stop-color="#ef9630"/><stop offset="0.568" stop-color="#ef9331"/><stop offset="0.591" stop-color="#ee9031"/><stop offset="0.614" stop-color="#ee8e31"/><stop offset="0.636" stop-color="#ee8c31"/><stop offset="0.659" stop-color="#ed8b31"/><stop offset="0.682" stop-color="#ed8832"/><stop offset="0.705" stop-color="#ed8432"/><stop offset="0.727" stop-color="#ec7f33"/><stop offset="0.750" stop-color="#eb7a33"/><stop offset="0.773" stop-color="#eb7533"/><stop offset="0.795" stop-color="#ea7134"/><stop offset="0.818" stop-color="#e96e36"/><stop offset="0.841" stop-color="#e76b38"/><stop offset="0.864" stop-color="#e6683a"/><stop offset="0.886" stop-color="#e4653c"/><stop offset="0.909" stop-color="#e3623f"/><stop offset="0.932" stop-color="#e26140"/><stop offset="0.955" stop-color="#e16040"/><stop offset="0.977" stop-color="#e15e41"/><stop offset="1.000" stop-color="#e05d42"/></linearGradient>
<linearGradient id="d1" x1="0" x2="0" y1="0" y2="1"><stop offset="0.000" stop-color="#ecda34"/><stop offset="0.023" stop-color="#edd733"/><stop offset="0.045" stop-color="#edd433"/><stop offset="0.068" stop-color="#eed032"/><stop offset="0.091" stop-color="#eecd32"/><stop offset="0.114" stop-color="#eeca32"/><stop offset="0.136" stop-color="#efc631"/><stop offset="0.159" stop-color="#efc231"/><stop offset="0.182" stop-color="#f0bf30"/><stop offset="0.205" stop-color="#f0bd30"/><stop offset="0.227" stop-color="#f0bb30"/><stop offset="0.250" stop-color="#f1b92f"/><stop offset="0.273" stop-color="#f1b52f"/><stop offset="0.295" stop-color="#f2b22e"/><stop offset="0.318" stop-color="#f2af2e"/><stop offset="0.341" stop-color="#f2ad2e"/><stop offset="0.364" stop-color="#f2ac2e"/><stop offset="0.386" stop-color="#f2aa2e"/><stop offset="0.409" stop-color="#f1a92f"/><stop offset="0.432" stop-color="#f1a72f"/><stop offset="0.455" stop-color="#f1a52f"/><stop offset="0.477" stop-color="#f1a42f"/><stop offset="0.500" stop-color="#f0a22f"/><stop offset="0.523" stop-color="#f09f2f"/><stop offset="0.545" stop-color="#f09c30"/><stop offset="0.568" stop-color="#ef9830"/><stop offset="0.591" stop-color="#ef9530"/><stop offset="0.614" stop-color="#ee9131"/><stop offset="0.636" stop-color="#ee8d31"/><stop offset="0.659" stop-color="#ed8932"/><stop offset="0.682" stop-color="#ed8432"/><stop offset="0.705" stop-color="#ec7c33"/><stop offset="0.727" stop-color="#eb7434"/><stop offset="0.750" stop-color="#e76a38"/><stop offset="0.773" stop-color="#e15f41"/><stop offset="0.795" stop-color="#dd5747"/><stop offset="0.818" stop-color="#dd5747"/><stop offset="0.841" stop-color="#de5a45"/><stop offset="0.864" stop-color="#df5b44"/><stop offset="0.886" stop-color="#e05c43"/><stop offset="0.909" stop-color="#df5c44"/><stop offset="0.932" stop-color="#df5c43"/><stop offset="0.955" stop-color="#df5c43"/><stop offset="0.977" stop-color="#df5b44"/><stop offset="1.000" stop-color="#df5b44"/></linearGradient>
</defs>
<rect width="685" height="393" fill="#fff"/>
<rect x="32.50" y="6.50" width="160.00" height="3.80" fill="url(#a0)"/>
<rect x="32.50" y="9.00" width="160.00" height="3.80" fill="url(#a1)"/>
<rect x="32.50" y="11.51" width="160.00" height="3.80" fill="url(#a2)"/>
<rect x="32.50" y="14.01" width="160.00" height="3.80" fill="url(#a3)"/>
<rect x="32.50" y="16.52" width="160.00" height="3.80" fill="url(#a4)"/>
<rect x="32.50" y="19.02" width="160.00" height="3.80" fill="url(#a5)"/>
<rect x="32.50" y="21.53" width="160.00" height="3.80" fill="url(#a6)"/>
<rect x="32.50" y="24.03" width="160.00" height="3.80" fill="url(#a7)"/>
<rect x="32.50" y="26.54" width="160.00" height="3.80" fill="url(#a8)"/>
<rect x="32.50" y="29.04" width="160.00" height="3.80" fill="url(#a9)"/>
<rect x="32.50" y="31.55" width="160.00" height="3.80" fill="url(#a10)"/>
<rect x="32.50" y="34.05" width="160.00" height="3.80" fill="url(#a11)"/>
<rect x="32.50" y="36.56" width="160.00" height="3.80" fill="url(#a12)"/>
<rect x="32.50" y="39.06" width="160.00" height="3.80" fill="url(#a13)"/>
<rect x="32.50" y="41.57" width="160.00" height="3.80" fill="url(#a14)"/>
<rect x="32.50" y="44.07" width="160.00" height="3.80" fill="url(#a15)"/>
<rect x="32.50" y="46.58" width="160.00" height="3.80" fill="url(#a16)"/>
<rect x="32.50" y="49.08" width="160.00" height="3.80" fill="url(#a17)"/>
<rect x="32.50" y="51.58" width="160.00" height="3.80" fill="url(#a18)"/>
<rect x="32.50" y="54.09" width="160.00" height="3.80" fill="url(#a19)"/>
<rect x="32.50" y="56.59" width="160.00" height="3.80" fill="url(#a20)"/>
<rect x="32.50" y="59.10" width="160.00" height="3.80" fill="url(#a21)"/>
<rect x="32.50" y="61.60" width="160.00" height="3.80" fill="url(#a22)"/>
<rect x="32.50" y="64.11" width="160.00" height="3.80" fill="url(#a23)"/>
<rect x="32.50" y="66.61" width="160.00" height="3.80" fill="url(#a24)"/>
<rect x="32.50" y="69.12" width="160.00" height="3.80" fill="url(#a25)"/>
<rect x="32.50" y="71.62" width="160.00" height="3.80" fill="url(#a26)"/>
<rect x="32.50" y="74.13" width="160.00" height="3.80" fill="url(#a27)"/>
<rect x="32.50" y="76.63" width="160.00" height="3.80" fill="url(#a28)"/>
<rect x="32.50" y="79.14" width="160.00" height="3.80" fill="url(#a29)"/>
<rect x="32.50" y="81.64" width="160.00" height="3.80" fill="url(#a30)"/>
<rect x="32.50" y="84.15" width="160.00" height="3.80" fill="url(#a31)"/>
<rect x="32.50" y="86.65" width="160.00" height="3.80" fill="url(#a32)"/>
<rect x="32.50" y="89.15" width="160.00" height="3.80" fill="url(#a33)"/>
<rect x="32.50" y="91.66" width="160.00" height="3.80" fill="url(#a34)"/>
<rect x="32.50" y="94.16" width="160.00" height="3.80" fill="url(#a35)"/>
<rect x="32.50" y="96.67" width="160.00" height="3.80" fill="url(#a36)"/>
<rect x="32.50" y="99.17" width="160.00" height="3.80" fill="url(#a37)"/>
<rect x="32.50" y="101.68" width="160.00" height="3.80" fill="url(#a38)"/>
<rect x="32.50" y="104.18" width="160.00" height="3.80" fill="url(#a39)"/>
<rect x="32.50" y="106.69" width="160.00" height="3.80" fill="url(#a40)"/>
<rect x="32.50" y="109.19" width="160.00" height="3.80" fill="url(#a41)"/>
<rect x="32.50" y="111.70" width="160.00" height="3.80" fill="url(#a42)"/>
<rect x="32.50" y="114.20" width="160.00" height="3.80" fill="url(#a43)"/>
<rect x="32.50" y="116.71" width="160.00" height="3.80" fill="url(#a44)"/>
<rect x="32.50" y="119.21" width="160.00" height="3.80" fill="url(#a45)"/>
<rect x="32.50" y="121.72" width="160.00" height="3.80" fill="url(#a46)"/>
<rect x="32.50" y="124.22" width="160.00" height="3.80" fill="url(#a47)"/>
<rect x="32.50" y="126.73" width="160.00" height="3.80" fill="url(#a48)"/>
<rect x="32.50" y="129.23" width="160.00" height="3.80" fill="url(#a49)"/>
<rect x="32.50" y="131.73" width="160.00" height="3.80" fill="url(#a50)"/>
<rect x="32.50" y="134.24" width="160.00" height="3.80" fill="url(#a51)"/>
<rect x="32.50" y="136.74" width="160.00" height="3.80" fill="url(#a52)"/>
<rect x="32.50" y="139.25" width="160.00" height="3.80" fill="url(#a53)"/>
<rect x="32.50" y="141.75" width="160.00" height="3.80" fill="url(#a54)"/>
<rect x="32.50" y="144.26" width="160.00" height="3.80" fill="url(#a55)"/>
<rect x="32.50" y="146.76" width="160.00" height="3.80" fill="url(#a56)"/>
<rect x="32.50" y="149.27" width="160.00" height="3.80" fill="url(#a57)"/>
<rect x="32.50" y="151.77" width="160.00" height="3.80" fill="url(#a58)"/>
<rect x="32.50" y="154.28" width="160.00" height="3.80" fill="url(#a59)"/>
<rect x="32.50" y="156.78" width="160.00" height="3.80" fill="url(#a60)"/>
<rect x="32.50" y="159.29" width="160.00" height="3.80" fill="url(#a61)"/>
<rect x="32.50" y="161.79" width="160.00" height="3.80" fill="url(#a62)"/>
<rect x="32.50" y="164.30" width="160.00" height="2.50" fill="url(#a63)"/>
<rect x="32.5" y="6.5" width="160.0" height="160.30" fill="url(#hs)"/>
<line x1="101.50" y1="6.50" x2="101.50" y2="166.80" stroke="#2e2e2e" stroke-width="1" stroke-dasharray="4 2.6"/>
<line x1="136.50" y1="6.50" x2="136.50" y2="166.80" stroke="#2e2e2e" stroke-width="1" stroke-dasharray="4 2.6"/>
<rect x="32.50" y="6.50" width="160.00" height="160.30" fill="none" stroke="#222" stroke-width="1"/>
<line x1="67.28" y1="6.50" x2="67.28" y2="8.70" stroke="#222" stroke-width="1" />
<line x1="67.28" y1="166.80" x2="67.28" y2="164.60" stroke="#222" stroke-width="1" />
<line x1="102.07" y1="6.50" x2="102.07" y2="8.70" stroke="#222" stroke-width="1" />
<line x1="102.07" y1="166.80" x2="102.07" y2="164.60" stroke="#222" stroke-width="1" />
<line x1="136.86" y1="6.50" x2="136.86" y2="8.70" stroke="#222" stroke-width="1" />
<line x1="136.86" y1="166.80" x2="136.86" y2="164.60" stroke="#222" stroke-width="1" />
<line x1="171.64" y1="6.50" x2="171.64" y2="8.70" stroke="#222" stroke-width="1" />
<line x1="171.64" y1="166.80" x2="171.64" y2="164.60" stroke="#222" stroke-width="1" />
<text x="32.50" y="177.40" font-size="10" text-anchor="middle" fill="#111" stroke="#111" >-5</text>
<text x="67.78" y="177.40" font-size="10" text-anchor="middle" fill="#111" stroke="#111" >0</text>
<text x="102.57" y="177.40" font-size="10" text-anchor="middle" fill="#111" stroke="#111" >5</text>
<text x="136.86" y="177.40" font-size="10" text-anchor="middle" fill="#111" stroke="#111" >10</text>
<text x="171.64" y="177.40" font-size="10" text-anchor="middle" fill="#111" stroke="#111" >15</text>
<line x1="32.50" y1="159.50" x2="34.70" y2="159.50" stroke="#222" stroke-width="1" />
<line x1="192.50" y1="159.50" x2="190.30" y2="159.50" stroke="#222" stroke-width="1" />
<text x="27.30" y="163.00" font-size="10" text-anchor="end" fill="#111" stroke="#111" >7</text>
<line x1="32.50" y1="127.00" x2="34.70" y2="127.00" stroke="#222" stroke-width="1" />
<line x1="192.50" y1="127.00" x2="190.30" y2="127.00" stroke="#222" stroke-width="1" />
<text x="27.30" y="130.50" font-size="10" text-anchor="end" fill="#111" stroke="#111" >8</text>
<line x1="32.50" y1="94.50" x2="34.70" y2="94.50" stroke="#222" stroke-width="1" />
<line x1="192.50" y1="94.50" x2="190.30" y2="94.50" stroke="#222" stroke-width="1" />
<text x="27.30" y="98.00" font-size="10" text-anchor="end" fill="#111" stroke="#111" >9</text>
<line x1="32.50" y1="62.00" x2="34.70" y2="62.00" stroke="#222" stroke-width="1" />
<line x1="192.50" y1="62.00" x2="190.30" y2="62.00" stroke="#222" stroke-width="1" />
<text x="27.30" y="65.50" font-size="10" text-anchor="end" fill="#111" stroke="#111" >10</text>
<line x1="32.50" y1="29.50" x2="34.70" y2="29.50" stroke="#222" stroke-width="1" />
<line x1="192.50" y1="29.50" x2="190.30" y2="29.50" stroke="#222" stroke-width="1" />
<text x="27.30" y="33.00" font-size="10" text-anchor="end" fill="#111" stroke="#111" >11</text>
<text x="104.80" y="189.10" font-size="10" text-anchor="middle" fill="#111" stroke="#111" >Power (dBm)</text>
<text transform="translate(12.40,97.50) rotate(-90)" font-size="10" text-anchor="middle" fill="#111" stroke="#111"><tspan font-style="italic">f</tspan> (GHz)</text>
<text x="60.30" y="60.10" font-size="10" text-anchor="middle" fill="#111" stroke="#111" >DW</text>
<text x="166.00" y="128.70" font-size="10" text-anchor="middle" fill="#111" stroke="#111" >M1</text>
<rect x="200.5" y="17" width="9.5" height="139" fill="url(#cba)" stroke="#333" stroke-width="0.7"/>
<line x1="210.00" y1="18.40" x2="208.30" y2="18.40" stroke="#222" stroke-width="0.7" />
<text x="212.30" y="21.85" font-size="10" text-anchor="start" fill="#111" stroke="#111" >40</text>
<line x1="210.00" y1="42.30" x2="208.30" y2="42.30" stroke="#222" stroke-width="0.7" />
<text x="212.30" y="45.75" font-size="10" text-anchor="start" fill="#111" stroke="#111" >30</text>
<line x1="210.00" y1="66.20" x2="208.30" y2="66.20" stroke="#222" stroke-width="0.7" />
<text x="212.30" y="69.65" font-size="10" text-anchor="start" fill="#111" stroke="#111" >20</text>
<line x1="210.00" y1="90.10" x2="208.30" y2="90.10" stroke="#222" stroke-width="0.7" />
<text x="212.30" y="93.55" font-size="10" text-anchor="start" fill="#111" stroke="#111" >10</text>
<line x1="210.00" y1="114.00" x2="208.30" y2="114.00" stroke="#222" stroke-width="0.7" />
<text x="212.30" y="117.45" font-size="10" text-anchor="start" fill="#111" stroke="#111" >0</text>
<line x1="210.00" y1="137.90" x2="208.30" y2="137.90" stroke="#222" stroke-width="0.7" />
<text x="212.30" y="141.35" font-size="10" text-anchor="start" fill="#111" stroke="#111" >-10</text>
<text x="-0.40" y="6.90" font-size="10.5" text-anchor="start" fill="#111" stroke="#111" font-weight="bold">a</text>
<rect x="327.6" y="7.5" width="53.0" height="159.3" fill="#eeeb87"/>
<polyline points="273.3,67.1 274.4,72.9 275.5,73.2 276.6,75.3 277.6,81.0 278.7,70.9 279.8,81.6 280.9,71.4 282.0,74.3 283.1,69.5 284.2,74.6 285.3,77.8 286.3,72.8 287.4,76.8 288.5,75.2 289.6,74.3 290.7,75.1 291.8,75.3 292.9,78.1 294.0,75.4 295.0,83.7 296.1,75.3 297.2,79.8 298.3,69.9 299.4,69.3 300.5,83.0 301.6,74.2 302.7,75.4 303.7,79.3 304.8,72.6 305.9,76.9 307.0,82.4 308.1,76.1 309.2,75.6 310.3,74.6 311.4,80.3 312.4,72.5 313.5,72.0 314.6,80.0 315.7,78.0 316.8,75.5 317.9,77.6 319.0,67.9 320.1,74.4 321.1,79.6 322.2,78.7 323.3,75.6 324.4,65.7 325.5,76.2 326.6,74.9 327.7,73.5 328.7,76.6 329.8,67.3 330.9,79.6 332.0,73.5 333.1,75.5 334.2,72.9 335.3,80.1 336.4,66.8 337.4,74.4 338.5,73.2 339.6,76.9 340.7,75.6 341.8,69.5 342.9,67.2 344.0,67.7 345.1,65.3 346.1,67.0 347.2,69.6 348.3,65.5 349.4,66.0 350.5,68.2 351.6,63.6 352.7,60.3 353.8,64.1 354.8,65.9 355.9,60.2 357.0,54.0 358.1,62.7 359.2,61.3 360.3,60.5 361.4,53.2 362.5,66.1 363.5,54.9 364.6,50.0 365.7,58.1 366.8,46.4 367.9,49.7 369.0,53.6 370.1,49.0 371.2,56.0 372.2,50.5 373.3,38.3 374.4,50.1 375.5,36.2 376.6,44.2 377.7,38.2 378.8,41.6 379.9,51.5 380.9,38.4 382.0,27.4 383.1,31.3 384.2,32.8 385.3,22.7 386.4,29.0 387.5,35.4 388.5,29.5 389.6,20.4 390.7,28.6 391.8,20.2 392.9,16.8 394.0,26.0 395.1,33.2 396.2,34.4 397.2,26.8 398.3,21.5 399.4,25.4 400.5,23.8 401.6,30.0 402.7,25.6 403.8,30.1 404.9,28.9 405.9,34.5 407.0,35.8 408.1,28.8 409.2,32.3 410.3,31.1 411.4,20.8 412.5,25.2 413.6,10.5 414.6,18.2 415.7,27.4 416.8,18.4 417.9,20.7 419.0,26.8 420.1,15.9 421.2,27.7 422.3,42.0 423.3,18.4 424.4,27.3 425.5,14.5 426.6,27.9 427.7,31.4 428.8,14.7 429.9,31.2 431.0,23.4 432.0,15.9 433.1,24.4 434.2,25.8 435.3,24.9" fill="none" stroke="#e8222a" stroke-width="1.3" stroke-linejoin="round"/>
<line x1="272.30" y1="109.94" x2="436.50" y2="109.94" stroke="#ee6a6a" stroke-width="1.0" stroke-dasharray="3.4 2.4"/>
<line x1="272.30" y1="128.92" x2="436.50" y2="128.92" stroke="#f0a050" stroke-width="1.0" stroke-dasharray="3.4 2.4"/>
<line x1="273.30" y1="166.80" x2="273.30" y2="147.90" stroke="#222" stroke-width="1.4" />
<line x1="284.10" y1="166.80" x2="284.10" y2="143.88" stroke="#222" stroke-width="1.4" />
<line x1="294.90" y1="166.80" x2="294.90" y2="139.87" stroke="#222" stroke-width="1.4" />
<line x1="305.70" y1="166.80" x2="305.70" y2="135.86" stroke="#222" stroke-width="1.4" />
<line x1="316.50" y1="166.80" x2="316.50" y2="132.57" stroke="#222" stroke-width="1.4" />
<line x1="327.30" y1="166.80" x2="327.30" y2="128.56" stroke="#222" stroke-width="1.4" />
<line x1="338.10" y1="166.80" x2="338.10" y2="123.81" stroke="#222" stroke-width="1.4" />
<line x1="348.90" y1="166.80" x2="348.90" y2="119.80" stroke="#222" stroke-width="1.4" />
<line x1="359.70" y1="166.80" x2="359.70" y2="116.15" stroke="#222" stroke-width="1.4" />
<line x1="370.50" y1="166.80" x2="370.50" y2="112.86" stroke="#222" stroke-width="1.4" />
<line x1="381.30" y1="166.80" x2="381.30" y2="109.21" stroke="#222" stroke-width="1.4" />
<line x1="392.10" y1="166.80" x2="392.10" y2="105.56" stroke="#222" stroke-width="1.4" />
<line x1="402.90" y1="166.80" x2="402.90" y2="101.55" stroke="#222" stroke-width="1.4" />
<line x1="413.70" y1="166.80" x2="413.70" y2="97.90" stroke="#222" stroke-width="1.4" />
<line x1="424.50" y1="166.80" x2="424.50" y2="94.25" stroke="#222" stroke-width="1.4" />
<line x1="435.30" y1="166.80" x2="435.30" y2="92.79" stroke="#222" stroke-width="1.4" />
<rect x="272.30" y="7.50" width="164.20" height="159.30" fill="none" stroke="#5a5a5a" stroke-width="1.2"/>
<line x1="272.30" y1="85.30" x2="436.50" y2="85.30" stroke="#5a5a5a" stroke-width="1.2" />
<line x1="272.30" y1="78.50" x2="274.50" y2="78.50" stroke="#4a4a4a" stroke-width="1" />
<text x="268.50" y="83.40" font-size="10" text-anchor="end" fill="#111" stroke="#111" >0</text>
<line x1="272.30" y1="53.50" x2="274.50" y2="53.50" stroke="#4a4a4a" stroke-width="1" />
<text x="268.50" y="56.60" font-size="10" text-anchor="end" fill="#111" stroke="#111" >5</text>
<line x1="272.30" y1="28.50" x2="274.50" y2="28.50" stroke="#4a4a4a" stroke-width="1" />
<text x="268.50" y="31.60" font-size="10" text-anchor="end" fill="#111" stroke="#111" >10</text>
<line x1="272.30" y1="66.00" x2="273.80" y2="66.00" stroke="#4a4a4a" stroke-width="0.8" />
<line x1="272.30" y1="41.00" x2="273.80" y2="41.00" stroke="#4a4a4a" stroke-width="0.8" />
<line x1="272.30" y1="16.00" x2="273.80" y2="16.00" stroke="#4a4a4a" stroke-width="0.8" />
<text x="268.50" y="169.95" font-size="10" text-anchor="end" fill="#111" stroke="#111" >-5</text>
<line x1="272.30" y1="147.90" x2="274.50" y2="147.90" stroke="#4a4a4a" stroke-width="1" />
<text x="268.50" y="151.70" font-size="10" text-anchor="end" fill="#111" stroke="#111" >0</text>
<line x1="272.30" y1="129.65" x2="274.50" y2="129.65" stroke="#4a4a4a" stroke-width="1" />
<text x="268.50" y="133.45" font-size="10" text-anchor="end" fill="#111" stroke="#111" >5</text>
<line x1="272.30" y1="111.40" x2="274.50" y2="111.40" stroke="#4a4a4a" stroke-width="1" />
<text x="268.50" y="115.20" font-size="10" text-anchor="end" fill="#111" stroke="#111" >10</text>
<line x1="272.30" y1="93.15" x2="274.50" y2="93.15" stroke="#4a4a4a" stroke-width="1" />
<text x="268.50" y="97.55" font-size="10" text-anchor="end" fill="#111" stroke="#111" >15</text>
<text x="273.60" y="177.60" font-size="10" text-anchor="middle" fill="#111" stroke="#111" >0</text>
<line x1="273.30" y1="85.30" x2="273.30" y2="83.30" stroke="#4a4a4a" stroke-width="0.9" />
<text x="328.20" y="177.60" font-size="10" text-anchor="middle" fill="#111" stroke="#111" >5</text>
<line x1="327.30" y1="85.30" x2="327.30" y2="83.30" stroke="#4a4a4a" stroke-width="0.9" />
<text x="379.80" y="177.60" font-size="10" text-anchor="middle" fill="#111" stroke="#111" >10</text>
<line x1="381.30" y1="85.30" x2="381.30" y2="83.30" stroke="#4a4a4a" stroke-width="0.9" />
<text x="433.80" y="177.60" font-size="10" text-anchor="middle" fill="#111" stroke="#111" >15</text>
<line x1="435.30" y1="85.30" x2="435.30" y2="83.30" stroke="#4a4a4a" stroke-width="0.9" />
<line x1="300.30" y1="85.30" x2="300.30" y2="83.80" stroke="#4a4a4a" stroke-width="0.8" />
<line x1="300.30" y1="166.80" x2="300.30" y2="165.30" stroke="#4a4a4a" stroke-width="0.8" />
<line x1="354.30" y1="85.30" x2="354.30" y2="83.80" stroke="#4a4a4a" stroke-width="0.8" />
<line x1="354.30" y1="166.80" x2="354.30" y2="165.30" stroke="#4a4a4a" stroke-width="0.8" />
<line x1="408.30" y1="85.30" x2="408.30" y2="83.80" stroke="#4a4a4a" stroke-width="0.8" />
<line x1="408.30" y1="166.80" x2="408.30" y2="165.30" stroke="#4a4a4a" stroke-width="0.8" />
<text x="353.70" y="189.10" font-size="10" text-anchor="middle" fill="#111" stroke="#111" >Counts</text>
<text transform="translate(252.80,54.20) rotate(-90)" font-size="10.3" text-anchor="middle" fill="#111" stroke="#111"><tspan font-style="italic">S</tspan><tspan font-size="6.8" dy="2">11</tspan><tspan dy="-2"> (10</tspan><tspan font-size="6.8" dy="-3.5">-3</tspan><tspan dy="3.5"> dB)</tspan></text>
<text transform="translate(253.20,129.80) rotate(-90)" font-size="10" text-anchor="middle" fill="#111" stroke="#111">Power (dBm)</text>
<text x="276.30" y="20.60" font-size="10" text-anchor="start" fill="#111" stroke="#111" >7.4 GHz</text>
<text x="406.70" y="52.00" font-size="10" text-anchor="middle" fill="#e0262c" stroke="#e0262c" >M1</text>
<text x="304.80" y="122.70" font-size="9.6" text-anchor="middle" fill="#111" stroke="#111" >ϑ<tspan font-size="5.8" dy="2">1</tspan></text>
<text x="357.20" y="101.90" font-size="9.6" text-anchor="middle" fill="#111" stroke="#111" >ϑ<tspan font-size="5.8" dy="2">2</tspan></text>
<line x1="313.20" y1="120.20" x2="327.20" y2="128.60" stroke="#111" stroke-width="1.1" marker-end="url(#ah)"/>
<line x1="365.20" y1="100.60" x2="380.20" y2="108.90" stroke="#111" stroke-width="1.1" marker-end="url(#ah)"/>
<text x="235.50" y="6.90" font-size="10.5" text-anchor="start" fill="#111" stroke="#111" font-weight="bold">b</text>
<rect x="491.00" y="6.50" width="161.00" height="3.80" fill="url(#c0)"/>
<rect x="491.00" y="9.00" width="161.00" height="3.80" fill="url(#c1)"/>
<rect x="491.00" y="11.49" width="161.00" height="3.80" fill="url(#c2)"/>
<rect x="491.00" y="13.99" width="161.00" height="3.80" fill="url(#c3)"/>
<rect x="491.00" y="16.49" width="161.00" height="3.80" fill="url(#c4)"/>
<rect x="491.00" y="18.98" width="161.00" height="3.80" fill="url(#c5)"/>
<rect x="491.00" y="21.48" width="161.00" height="3.80" fill="url(#c6)"/>
<rect x="491.00" y="23.98" width="161.00" height="3.80" fill="url(#c7)"/>
<rect x="491.00" y="26.48" width="161.00" height="3.80" fill="url(#c8)"/>
<rect x="491.00" y="28.97" width="161.00" height="3.80" fill="url(#c9)"/>
<rect x="491.00" y="31.47" width="161.00" height="3.80" fill="url(#c10)"/>
<rect x="491.00" y="33.97" width="161.00" height="3.80" fill="url(#c11)"/>
<rect x="491.00" y="36.46" width="161.00" height="3.80" fill="url(#c12)"/>
<rect x="491.00" y="38.96" width="161.00" height="3.80" fill="url(#c13)"/>
<rect x="491.00" y="41.46" width="161.00" height="3.80" fill="url(#c14)"/>
<rect x="491.00" y="43.95" width="161.00" height="3.80" fill="url(#c15)"/>
<rect x="491.00" y="46.45" width="161.00" height="3.80" fill="url(#c16)"/>
<rect x="491.00" y="48.95" width="161.00" height="3.80" fill="url(#c17)"/>
<rect x="491.00" y="51.44" width="161.00" height="3.80" fill="url(#c18)"/>
<rect x="491.00" y="53.94" width="161.00" height="3.80" fill="url(#c19)"/>
<rect x="491.00" y="56.44" width="161.00" height="3.80" fill="url(#c20)"/>
<rect x="491.00" y="58.93" width="161.00" height="3.80" fill="url(#c21)"/>
<rect x="491.00" y="61.43" width="161.00" height="3.80" fill="url(#c22)"/>
<rect x="491.00" y="63.93" width="161.00" height="3.80" fill="url(#c23)"/>
<rect x="491.00" y="66.43" width="161.00" height="3.80" fill="url(#c24)"/>
<rect x="491.00" y="68.92" width="161.00" height="3.80" fill="url(#c25)"/>
<rect x="491.00" y="71.42" width="161.00" height="3.80" fill="url(#c26)"/>
<rect x="491.00" y="73.92" width="161.00" height="3.80" fill="url(#c27)"/>
<rect x="491.00" y="76.41" width="161.00" height="3.80" fill="url(#c28)"/>
<rect x="491.00" y="78.91" width="161.00" height="3.80" fill="url(#c29)"/>
<rect x="491.00" y="81.41" width="161.00" height="3.80" fill="url(#c30)"/>
<rect x="491.00" y="83.90" width="161.00" height="3.80" fill="url(#c31)"/>
<rect x="491.00" y="86.40" width="161.00" height="3.80" fill="url(#c32)"/>
<rect x="491.00" y="88.90" width="161.00" height="3.80" fill="url(#c33)"/>
<rect x="491.00" y="91.39" width="161.00" height="3.80" fill="url(#c34)"/>
<rect x="491.00" y="93.89" width="161.00" height="3.80" fill="url(#c35)"/>
<rect x="491.00" y="96.39" width="161.00" height="3.80" fill="url(#c36)"/>
<rect x="491.00" y="98.88" width="161.00" height="3.80" fill="url(#c37)"/>
<rect x="491.00" y="101.38" width="161.00" height="3.80" fill="url(#c38)"/>
<rect x="491.00" y="103.88" width="161.00" height="3.80" fill="url(#c39)"/>
<rect x="491.00" y="106.38" width="161.00" height="3.80" fill="url(#c40)"/>
<rect x="491.00" y="108.87" width="161.00" height="3.80" fill="url(#c41)"/>
<rect x="491.00" y="111.37" width="161.00" height="3.80" fill="url(#c42)"/>
<rect x="491.00" y="113.87" width="161.00" height="3.80" fill="url(#c43)"/>
<rect x="491.00" y="116.36" width="161.00" height="3.80" fill="url(#c44)"/>
<rect x="491.00" y="118.86" width="161.00" height="3.80" fill="url(#c45)"/>
<rect x="491.00" y="121.36" width="161.00" height="3.80" fill="url(#c46)"/>
<rect x="491.00" y="123.85" width="161.00" height="3.80" fill="url(#c47)"/>
<rect x="491.00" y="126.35" width="161.00" height="3.80" fill="url(#c48)"/>
<rect x="491.00" y="128.85" width="161.00" height="3.80" fill="url(#c49)"/>
<rect x="491.00" y="131.34" width="161.00" height="3.80" fill="url(#c50)"/>
<rect x="491.00" y="133.84" width="161.00" height="3.80" fill="url(#c51)"/>
<rect x="491.00" y="136.34" width="161.00" height="3.80" fill="url(#c52)"/>
<rect x="491.00" y="138.83" width="161.00" height="3.80" fill="url(#c53)"/>
<rect x="491.00" y="141.33" width="161.00" height="3.80" fill="url(#c54)"/>
<rect x="491.00" y="143.83" width="161.00" height="3.80" fill="url(#c55)"/>
<rect x="491.00" y="146.33" width="161.00" height="3.80" fill="url(#c56)"/>
<rect x="491.00" y="148.82" width="161.00" height="3.80" fill="url(#c57)"/>
<rect x="491.00" y="151.32" width="161.00" height="3.80" fill="url(#c58)"/>
<rect x="491.00" y="153.82" width="161.00" height="3.80" fill="url(#c59)"/>
<rect x="491.00" y="156.31" width="161.00" height="3.80" fill="url(#c60)"/>
<rect x="491.00" y="158.81" width="161.00" height="3.80" fill="url(#c61)"/>
<rect x="491.00" y="161.31" width="161.00" height="3.80" fill="url(#c62)"/>
<rect x="491.00" y="163.80" width="161.00" height="2.50" fill="url(#c63)"/>
<rect x="491.0" y="6.5" width="161.0" height="159.80" fill="url(#hs)"/>
<polyline points="491.0,36.3 571.5,65.7 652.0,36.3" fill="none" stroke="#1a1a1a" stroke-width="0.85" stroke-dasharray="2.1 1.9"/>
<line x1="491.00" y1="133.30" x2="652.00" y2="133.30" stroke="#fff" stroke-width="1.2" stroke-dasharray="1.2 1.2"/>
<rect x="491.00" y="6.50" width="161.00" height="159.80" fill="none" stroke="#222" stroke-width="1"/>
<line x1="531.25" y1="6.50" x2="531.25" y2="8.70" stroke="#222" stroke-width="1" />
<line x1="531.25" y1="166.30" x2="531.25" y2="164.10" stroke="#222" stroke-width="1" />
<line x1="571.50" y1="6.50" x2="571.50" y2="8.70" stroke="#222" stroke-width="1" />
<line x1="571.50" y1="166.30" x2="571.50" y2="164.10" stroke="#222" stroke-width="1" />
<line x1="611.75" y1="6.50" x2="611.75" y2="8.70" stroke="#222" stroke-width="1" />
<line x1="611.75" y1="166.30" x2="611.75" y2="164.10" stroke="#222" stroke-width="1" />
<text x="489.70" y="177.60" font-size="10" text-anchor="middle" fill="#111" stroke="#111" >-20</text>
<text x="529.95" y="177.60" font-size="10" text-anchor="middle" fill="#111" stroke="#111" >-10</text>
<text x="571.90" y="177.60" font-size="10" text-anchor="middle" fill="#111" stroke="#111" >0</text>
<text x="612.15" y="177.60" font-size="10" text-anchor="middle" fill="#111" stroke="#111" >10</text>
<text x="651.00" y="177.60" font-size="10" text-anchor="middle" fill="#111" stroke="#111" >20</text>
<line x1="491.00" y1="160.80" x2="493.20" y2="160.80" stroke="#222" stroke-width="1" />
<line x1="652.00" y1="160.80" x2="649.80" y2="160.80" stroke="#222" stroke-width="1" />
<text x="486.80" y="164.50" font-size="10" text-anchor="end" fill="#111" stroke="#111" >6</text>
<line x1="491.00" y1="122.20" x2="493.20" y2="122.20" stroke="#222" stroke-width="1" />
<line x1="652.00" y1="122.20" x2="649.80" y2="122.20" stroke="#222" stroke-width="1" />
<text x="486.80" y="125.90" font-size="10" text-anchor="end" fill="#111" stroke="#111" >8</text>
<line x1="491.00" y1="83.60" x2="493.20" y2="83.60" stroke="#222" stroke-width="1" />
<line x1="652.00" y1="83.60" x2="649.80" y2="83.60" stroke="#222" stroke-width="1" />
<text x="486.80" y="87.30" font-size="10" text-anchor="end" fill="#111" stroke="#111" >10</text>
<line x1="491.00" y1="45.00" x2="493.20" y2="45.00" stroke="#222" stroke-width="1" />
<line x1="652.00" y1="45.00" x2="649.80" y2="45.00" stroke="#222" stroke-width="1" />
<text x="486.80" y="48.70" font-size="10" text-anchor="end" fill="#111" stroke="#111" >12</text>
<text x="486.80" y="9.00" font-size="10" text-anchor="end" fill="#111" stroke="#111" >14</text>
<text x="565.00" y="189.10" font-size="10" text-anchor="middle" fill="#111" stroke="#111" >Field (mT)</text>
<text transform="translate(468.90,89.00) rotate(-90)" font-size="10" text-anchor="middle" fill="#111" stroke="#111"><tspan font-style="italic">f</tspan> (GHz)</text>
<text x="566.20" y="30.90" font-size="10" text-anchor="middle" fill="#111" stroke="#111" >AFMR</text>
<line x1="556.20" y1="35.90" x2="545.90" y2="51.30" stroke="#111" stroke-width="1.45" marker-end="url(#ah2)"/>
<line x1="585.40" y1="35.90" x2="595.60" y2="51.30" stroke="#111" stroke-width="1.45" marker-end="url(#ah2)"/>
<text x="571.50" y="130.50" font-size="10" text-anchor="middle" fill="#fff" stroke="#fff" >M1</text>
<rect x="658.6" y="17" width="9.799999999999955" height="139.5" fill="url(#cbc)" stroke="#333" stroke-width="0.7"/>
<line x1="668.40" y1="40.40" x2="666.80" y2="40.40" stroke="#222" stroke-width="0.7" />
<text x="670.50" y="43.80" font-size="10" text-anchor="start" fill="#111" stroke="#111" >30</text>
<line x1="668.40" y1="62.90" x2="666.80" y2="62.90" stroke="#222" stroke-width="0.7" />
<text x="670.50" y="66.30" font-size="10" text-anchor="start" fill="#111" stroke="#111" >20</text>
<line x1="668.40" y1="85.40" x2="666.80" y2="85.40" stroke="#222" stroke-width="0.7" />
<text x="670.50" y="88.80" font-size="10" text-anchor="start" fill="#111" stroke="#111" >10</text>
<line x1="668.40" y1="107.90" x2="666.80" y2="107.90" stroke="#222" stroke-width="0.7" />
<text x="670.50" y="111.30" font-size="10" text-anchor="start" fill="#111" stroke="#111" >0</text>
<line x1="668.40" y1="130.40" x2="666.80" y2="130.40" stroke="#222" stroke-width="0.7" />
<text x="670.50" y="133.80" font-size="10" text-anchor="start" fill="#111" stroke="#111" >-10</text>
<line x1="668.40" y1="152.90" x2="666.80" y2="152.90" stroke="#222" stroke-width="0.7" />
<text x="670.50" y="156.30" font-size="10" text-anchor="start" fill="#111" stroke="#111" >-20</text>
<text x="454.80" y="6.90" font-size="10.5" text-anchor="start" fill="#111" stroke="#111" font-weight="bold">c</text>
<rect x="32.8" y="205.8" width="625.5" height="81.19999999999999" fill="url(#d1)"/>
<g>
<rect x="32.80" y="205.8" width="2.26" height="81.20" fill="url(#d0)"/>
<rect x="38.20" y="205.8" width="3.13" height="81.20" fill="url(#d0)"/>
<rect x="44.47" y="205.8" width="3.13" height="81.20" fill="url(#d0)"/>
<rect x="50.73" y="205.8" width="3.13" height="81.20" fill="url(#d0)"/>
<rect x="57.00" y="205.8" width="3.13" height="81.20" fill="url(#d0)"/>
<rect x="63.26" y="205.8" width="3.13" height="81.20" fill="url(#d0)"/>
<rect x="69.53" y="205.8" width="3.13" height="81.20" fill="url(#d0)"/>
<rect x="75.79" y="205.8" width="3.13" height="81.20" fill="url(#d0)"/>
<rect x="82.06" y="205.8" width="3.13" height="81.20" fill="url(#d0)"/>
<rect x="88.32" y="205.8" width="3.13" height="81.20" fill="url(#d0)"/>
<rect x="94.59" y="205.8" width="3.13" height="81.20" fill="url(#d0)"/>
<rect x="100.85" y="205.8" width="3.13" height="81.20" fill="url(#d0)"/>
<rect x="107.12" y="205.8" width="3.13" height="81.20" fill="url(#d0)"/>
<rect x="113.38" y="205.8" width="3.13" height="81.20" fill="url(#d0)"/>
<rect x="119.65" y="205.8" width="3.13" height="81.20" fill="url(#d0)"/>
<rect x="125.91" y="205.8" width="3.13" height="81.20" fill="url(#d0)"/>
<rect x="132.18" y="205.8" width="3.13" height="81.20" fill="url(#d0)"/>
<rect x="138.44" y="205.8" width="3.13" height="81.20" fill="url(#d0)"/>
<rect x="144.71" y="205.8" width="3.13" height="81.20" fill="url(#d0)"/>
<rect x="150.97" y="205.8" width="3.13" height="81.20" fill="url(#d0)"/>
<rect x="157.24" y="205.8" width="3.13" height="81.20" fill="url(#d0)"/>
<rect x="163.50" y="205.8" width="3.13" height="81.20" fill="url(#d0)"/>
<rect x="169.77" y="205.8" width="3.13" height="81.20" fill="url(#d0)"/>
<rect x="176.03" y="205.8" width="3.13" height="81.20" fill="url(#d0)"/>
<rect x="182.30" y="205.8" width="3.13" height="81.20" fill="url(#d0)"/>
<rect x="188.56" y="205.8" width="3.13" height="81.20" fill="url(#d0)"/>
<rect x="194.83" y="205.8" width="3.13" height="81.20" fill="url(#d0)"/>
<rect x="201.09" y="205.8" width="3.13" height="81.20" fill="url(#d0)"/>
<rect x="207.36" y="205.8" width="3.13" height="81.20" fill="url(#d0)"/>
<rect x="213.62" y="205.8" width="3.13" height="81.20" fill="url(#d0)"/>
<rect x="219.89" y="205.8" width="3.13" height="81.20" fill="url(#d0)"/>
<rect x="226.15" y="205.8" width="3.13" height="81.20" fill="url(#d0)"/>
<rect x="232.42" y="205.8" width="3.13" height="81.20" fill="url(#d0)"/>
<rect x="238.68" y="205.8" width="3.13" height="81.20" fill="url(#d0)"/>
<rect x="244.95" y="205.8" width="3.13" height="81.20" fill="url(#d0)"/>
<rect x="251.21" y="205.8" width="3.13" height="81.20" fill="url(#d0)"/>
<rect x="257.48" y="205.8" width="3.13" height="81.20" fill="url(#d0)"/>
<rect x="263.74" y="205.8" width="3.13" height="81.20" fill="url(#d0)"/>
<rect x="270.01" y="205.8" width="3.13" height="81.20" fill="url(#d0)"/>
<rect x="276.27" y="205.8" width="3.13" height="81.20" fill="url(#d0)"/>
<rect x="282.54" y="205.8" width="3.13" height="81.20" fill="url(#d0)"/>
<rect x="288.80" y="205.8" width="3.13" height="81.20" fill="url(#d0)"/>
<rect x="295.07" y="205.8" width="3.13" height="81.20" fill="url(#d0)"/>
<rect x="301.33" y="205.8" width="3.13" height="81.20" fill="url(#d0)"/>
<rect x="307.60" y="205.8" width="3.13" height="81.20" fill="url(#d0)"/>
<rect x="313.86" y="205.8" width="3.13" height="81.20" fill="url(#d0)"/>
<rect x="320.13" y="205.8" width="3.13" height="81.20" fill="url(#d0)"/>
<rect x="326.39" y="205.8" width="3.13" height="81.20" fill="url(#d0)"/>
<rect x="332.66" y="205.8" width="3.13" height="81.20" fill="url(#d0)"/>
<rect x="338.92" y="205.8" width="3.13" height="81.20" fill="url(#d0)"/>
<rect x="345.19" y="205.8" width="3.13" height="81.20" fill="url(#d0)"/>
<rect x="351.45" y="205.8" width="3.13" height="81.20" fill="url(#d0)"/>
<rect x="357.72" y="205.8" width="3.13" height="81.20" fill="url(#d0)"/>
<rect x="363.98" y="205.8" width="3.13" height="81.20" fill="url(#d0)"/>
<rect x="370.25" y="205.8" width="3.13" height="81.20" fill="url(#d0)"/>
<rect x="376.51" y="205.8" width="3.13" height="81.20" fill="url(#d0)"/>
<rect x="382.78" y="205.8" width="3.13" height="81.20" fill="url(#d0)"/>
<rect x="389.04" y="205.8" width="3.13" height="81.20" fill="url(#d0)"/>
<rect x="395.31" y="205.8" width="3.13" height="81.20" fill="url(#d0)"/>
<rect x="401.57" y="205.8" width="3.13" height="81.20" fill="url(#d0)"/>
<rect x="407.84" y="205.8" width="3.13" height="81.20" fill="url(#d0)"/>
<rect x="414.10" y="205.8" width="3.13" height="81.20" fill="url(#d0)"/>
<rect x="420.37" y="205.8" width="3.13" height="81.20" fill="url(#d0)"/>
<rect x="426.63" y="205.8" width="3.13" height="81.20" fill="url(#d0)"/>
<rect x="432.90" y="205.8" width="3.13" height="81.20" fill="url(#d0)"/>
<rect x="439.16" y="205.8" width="3.13" height="81.20" fill="url(#d0)"/>
<rect x="445.43" y="205.8" width="3.13" height="81.20" fill="url(#d0)"/>
<rect x="451.69" y="205.8" width="3.13" height="81.20" fill="url(#d0)"/>
<rect x="457.96" y="205.8" width="3.13" height="81.20" fill="url(#d0)"/>
<rect x="464.22" y="205.8" width="3.13" height="81.20" fill="url(#d0)"/>
<rect x="470.49" y="205.8" width="3.13" height="81.20" fill="url(#d0)"/>
<rect x="476.75" y="205.8" width="3.13" height="81.20" fill="url(#d0)"/>
<rect x="483.02" y="205.8" width="3.13" height="81.20" fill="url(#d0)"/>
<rect x="489.28" y="205.8" width="3.13" height="81.20" fill="url(#d0)"/>
<rect x="495.55" y="205.8" width="3.13" height="81.20" fill="url(#d0)"/>
<rect x="501.81" y="205.8" width="3.13" height="81.20" fill="url(#d0)"/>
<rect x="508.08" y="205.8" width="3.13" height="81.20" fill="url(#d0)"/>
<rect x="514.34" y="205.8" width="3.13" height="81.20" fill="url(#d0)"/>
<rect x="520.61" y="205.8" width="3.13" height="81.20" fill="url(#d0)"/>
<rect x="526.87" y="205.8" width="3.13" height="81.20" fill="url(#d0)"/>
<rect x="533.14" y="205.8" width="3.13" height="81.20" fill="url(#d0)"/>
<rect x="539.40" y="205.8" width="3.13" height="81.20" fill="url(#d0)"/>
<rect x="545.67" y="205.8" width="3.13" height="81.20" fill="url(#d0)"/>
<rect x="551.93" y="205.8" width="3.13" height="81.20" fill="url(#d0)"/>
<rect x="558.20" y="205.8" width="3.13" height="81.20" fill="url(#d0)"/>
<rect x="564.46" y="205.8" width="3.13" height="81.20" fill="url(#d0)"/>
<rect x="570.73" y="205.8" width="3.13" height="81.20" fill="url(#d0)"/>
<rect x="576.99" y="205.8" width="3.13" height="81.20" fill="url(#d0)"/>
<rect x="583.26" y="205.8" width="3.13" height="81.20" fill="url(#d0)"/>
<rect x="589.52" y="205.8" width="3.13" height="81.20" fill="url(#d0)"/>
<rect x="595.79" y="205.8" width="3.13" height="81.20" fill="url(#d0)"/>
<rect x="602.05" y="205.8" width="3.13" height="81.20" fill="url(#d0)"/>
<rect x="608.32" y="205.8" width="3.13" height="81.20" fill="url(#d0)"/>
<rect x="614.58" y="205.8" width="3.13" height="81.20" fill="url(#d0)"/>
<rect x="620.85" y="205.8" width="3.13" height="81.20" fill="url(#d0)"/>
<rect x="627.11" y="205.8" width="3.13" height="81.20" fill="url(#d0)"/>
<rect x="633.38" y="205.8" width="3.13" height="81.20" fill="url(#d0)"/>
<rect x="639.64" y="205.8" width="3.13" height="81.20" fill="url(#d0)"/>
<rect x="645.91" y="205.8" width="3.13" height="81.20" fill="url(#d0)"/>
<rect x="652.17" y="205.8" width="3.13" height="81.20" fill="url(#d0)"/>
</g>
<path d="M35.59,306.32L36.59,349.51M41.84,306.32L42.84,349.51M48.08,306.32L49.08,349.51M54.33,306.32L55.33,349.51M60.58,306.32L61.58,349.51M66.82,306.32L67.82,349.51M73.07,306.32L74.07,349.51M79.31,306.32L80.31,349.51M85.56,306.32L86.56,349.51M91.80,306.32L92.80,349.51M98.05,306.32L99.05,349.51M104.30,306.32L105.30,349.51M110.54,306.32L111.54,349.51M116.79,306.32L117.79,349.51M123.03,306.32L124.03,349.51M129.28,306.32L130.28,349.51M135.53,306.32L136.53,349.51M141.77,306.32L142.77,349.51M148.02,306.32L149.02,349.51M154.27,306.32L155.27,349.51M160.51,306.32L161.51,349.51M166.76,306.32L167.76,349.51M173.00,306.32L174.00,349.51M179.25,306.32L180.25,349.51M185.50,306.32L186.50,349.51M191.74,306.32L192.74,349.51M197.99,306.32L198.99,349.51M204.23,306.32L205.23,349.51M210.48,306.32L211.48,349.51M216.73,306.32L217.73,349.51M222.97,306.32L223.97,349.51M229.22,306.32L230.22,349.51M235.46,306.32L236.46,349.51M241.71,306.32L242.71,349.51M247.96,306.32L248.96,349.51M254.20,306.32L255.20,349.51M260.45,306.32L261.45,349.51M266.69,306.32L267.69,349.51M272.94,306.32L273.94,349.51M279.19,306.32L280.19,349.51M285.43,306.32L286.43,349.51M291.68,306.32L292.68,349.51M297.92,306.32L298.92,349.51M304.17,306.32L305.17,349.51M310.42,306.32L311.42,349.51M316.66,306.32L317.66,349.51M322.91,306.32L323.91,349.51M329.15,306.32L330.15,349.51M335.40,306.32L336.40,349.51M341.64,306.32L342.64,349.51M347.89,306.32L348.89,349.51M354.14,306.32L355.14,349.51M360.38,306.32L361.38,349.51M366.63,306.32L367.63,349.51M372.87,306.32L373.87,349.51M379.12,306.32L380.12,349.51M385.37,306.32L386.37,349.51M391.61,306.32L392.61,349.51M397.86,306.32L398.86,349.51M404.10,306.32L405.10,349.51M410.35,306.32L411.35,349.51M416.60,306.32L417.60,349.51M422.84,306.32L423.84,349.51M429.09,306.32L430.09,349.51M435.33,306.32L436.33,349.51M441.58,306.32L442.58,349.51M447.83,306.32L448.83,349.51M454.07,306.32L455.07,349.51M460.32,306.32L461.32,349.51M466.56,306.32L467.56,349.51M472.81,306.32L473.81,349.51M479.06,306.32L480.06,349.51M485.30,306.32L486.30,349.51M491.55,306.32L492.55,349.51M497.79,306.32L498.79,349.51M504.04,306.32L505.04,349.51M510.29,306.32L511.29,349.51M516.53,306.32L517.53,349.51M522.78,306.32L523.78,349.51M529.02,306.32L530.02,349.51M535.27,306.32L536.27,349.51M541.52,306.32L542.52,349.51M547.76,306.32L548.76,349.51M554.01,306.32L555.01,349.51M560.25,306.32L561.25,349.51M566.50,306.32L567.50,349.51M572.75,306.32L573.75,349.51M578.99,306.32L579.99,349.51M585.24,306.32L586.24,349.51M591.48,306.32L592.48,349.51M597.73,306.32L598.73,349.51M603.98,306.32L604.98,349.51M610.22,306.32L611.22,349.51M616.47,306.32L617.47,349.51M622.71,306.32L623.71,349.51M628.96,306.32L629.96,349.51M635.21,306.32L636.21,349.51M641.45,306.32L642.45,349.51M647.70,306.32L648.70,349.51M653.94,306.32L654.94,349.51" stroke="#ee3030" stroke-width="0.85" fill="none"/>
<path d="M38.89,349.51L39.29,306.32M45.14,349.51L45.54,306.32M51.38,349.51L51.78,306.32M57.63,349.51L58.03,306.32M63.88,349.51L64.28,306.32M70.12,349.51L70.52,306.32M76.37,349.51L76.77,306.32M82.61,349.51L83.01,306.32M88.86,349.51L89.26,306.32M95.10,349.51L95.50,306.32M101.35,349.51L101.75,306.32M107.60,349.51L108.00,306.32M113.84,349.51L114.24,306.32M120.09,349.51L120.49,306.32M126.33,349.51L126.73,306.32M132.58,349.51L132.98,306.32M138.83,349.51L139.23,306.32M145.07,349.51L145.47,306.32M151.32,349.51L151.72,306.32M157.57,349.51L157.97,306.32M163.81,349.51L164.21,306.32M170.06,349.51L170.46,306.32M176.30,349.51L176.70,306.32M182.55,349.51L182.95,306.32M188.80,349.51L189.20,306.32M195.04,349.51L195.44,306.32M201.29,349.51L201.69,306.32M207.53,349.51L207.93,306.32M213.78,349.51L214.18,306.32M220.03,349.51L220.43,306.32M226.27,349.51L226.67,306.32M232.52,349.51L232.92,306.32M238.76,349.51L239.16,306.32M245.01,349.51L245.41,306.32M251.26,349.51L251.66,306.32M257.50,349.51L257.90,306.32M263.75,349.51L264.15,306.32M269.99,349.51L270.39,306.32M276.24,349.51L276.64,306.32M282.49,349.51L282.89,306.32M288.73,349.51L289.13,306.32M294.98,349.51L295.38,306.32M301.22,349.51L301.62,306.32M307.47,349.51L307.87,306.32M313.72,349.51L314.12,306.32M319.96,349.51L320.36,306.32M326.21,349.51L326.61,306.32M332.45,349.51L332.85,306.32M338.70,349.51L339.10,306.32M344.94,349.51L345.34,306.32M351.19,349.51L351.59,306.32M357.44,349.51L357.84,306.32M363.68,349.51L364.08,306.32M369.93,349.51L370.33,306.32M376.17,349.51L376.57,306.32M382.42,349.51L382.82,306.32M388.67,349.51L389.07,306.32M394.91,349.51L395.31,306.32M401.16,349.51L401.56,306.32M407.40,349.51L407.80,306.32M413.65,349.51L414.05,306.32M419.90,349.51L420.30,306.32M426.14,349.51L426.54,306.32M432.39,349.51L432.79,306.32M438.63,349.51L439.03,306.32M444.88,349.51L445.28,306.32M451.13,349.51L451.53,306.32M457.37,349.51L457.77,306.32M463.62,349.51L464.02,306.32M469.86,349.51L470.26,306.32M476.11,349.51L476.51,306.32M482.36,349.51L482.76,306.32M488.60,349.51L489.00,306.32M494.85,349.51L495.25,306.32M501.09,349.51L501.49,306.32M507.34,349.51L507.74,306.32M513.59,349.51L513.99,306.32M519.83,349.51L520.23,306.32M526.08,349.51L526.48,306.32M532.32,349.51L532.72,306.32M538.57,349.51L538.97,306.32M544.82,349.51L545.22,306.32M551.06,349.51L551.46,306.32M557.31,349.51L557.71,306.32M563.55,349.51L563.95,306.32M569.80,349.51L570.20,306.32M576.05,349.51L576.45,306.32M582.29,349.51L582.69,306.32M588.54,349.51L588.94,306.32M594.78,349.51L595.18,306.32M601.03,349.51L601.43,306.32M607.28,349.51L607.68,306.32M613.52,349.51L613.92,306.32M619.77,349.51L620.17,306.32M626.01,349.51L626.41,306.32M632.26,349.51L632.66,306.32M638.51,349.51L638.91,306.32M644.75,349.51L645.15,306.32M651.00,349.51L651.40,306.32M657.24,349.51L657.64,306.32" stroke="#262626" stroke-width="1.0" fill="none"/>
<path d="M33.09,306.32H36.09M39.34,306.32H42.34M45.58,306.32H48.58M51.83,306.32H54.83M58.08,306.32H61.08M64.32,306.32H67.32M70.57,306.32H73.57M76.81,306.32H79.81M83.06,306.32H86.06M89.30,306.32H92.30M95.55,306.32H98.55M101.80,306.32H104.80M108.04,306.32H111.04M114.29,306.32H117.29M120.53,306.32H123.53M126.78,306.32H129.78M133.03,306.32H136.03M139.27,306.32H142.27M145.52,306.32H148.52M151.77,306.32H154.77M158.01,306.32H161.01M164.26,306.32H167.26M170.50,306.32H173.50M176.75,306.32H179.75M183.00,306.32H186.00M189.24,306.32H192.24M195.49,306.32H198.49M201.73,306.32H204.73M207.98,306.32H210.98M214.23,306.32H217.23M220.47,306.32H223.47M226.72,306.32H229.72M232.96,306.32H235.96M239.21,306.32H242.21M245.46,306.32H248.46M251.70,306.32H254.70M257.95,306.32H260.95M264.19,306.32H267.19M270.44,306.32H273.44M276.69,306.32H279.69M282.93,306.32H285.93M289.18,306.32H292.18M295.42,306.32H298.42M301.67,306.32H304.67M307.92,306.32H310.92M314.16,306.32H317.16M320.41,306.32H323.41M326.65,306.32H329.65M332.90,306.32H335.90M339.14,306.32H342.14M345.39,306.32H348.39M351.64,306.32H354.64M357.88,306.32H360.88M364.13,306.32H367.13M370.37,306.32H373.37M376.62,306.32H379.62M382.87,306.32H385.87M389.11,306.32H392.11M395.36,306.32H398.36M401.60,306.32H404.60M407.85,306.32H410.85M414.10,306.32H417.10M420.34,306.32H423.34M426.59,306.32H429.59M432.83,306.32H435.83M439.08,306.32H442.08M445.33,306.32H448.33M451.57,306.32H454.57M457.82,306.32H460.82M464.06,306.32H467.06M470.31,306.32H473.31M476.56,306.32H479.56M482.80,306.32H485.80M489.05,306.32H492.05M495.29,306.32H498.29M501.54,306.32H504.54M507.79,306.32H510.79M514.03,306.32H517.03M520.28,306.32H523.28M526.52,306.32H529.52M532.77,306.32H535.77M539.02,306.32H542.02M545.26,306.32H548.26M551.51,306.32H554.51M557.75,306.32H560.75M564.00,306.32H567.00M570.25,306.32H573.25M576.49,306.32H579.49M582.74,306.32H585.74M588.98,306.32H591.98M595.23,306.32H598.23M601.48,306.32H604.48M607.72,306.32H610.72M613.97,306.32H616.97M620.21,306.32H623.21M626.46,306.32H629.46M632.71,306.32H635.71M638.95,306.32H641.95M645.20,306.32H648.20M651.44,306.32H654.44" stroke="#111" stroke-width="2" fill="none"/>
<path d="M36.39,349.51H38.59M42.64,349.51H44.84M48.88,349.51H51.08M55.13,349.51H57.33M61.38,349.51H63.58M67.62,349.51H69.82M73.87,349.51H76.07M80.11,349.51H82.31M86.36,349.51H88.56M92.61,349.51H94.80M98.85,349.51H101.05M105.10,349.51H107.30M111.34,349.51H113.54M117.59,349.51H119.79M123.83,349.51H126.03M130.08,349.51H132.28M136.33,349.51H138.53M142.57,349.51H144.77M148.82,349.51H151.02M155.07,349.51H157.27M161.31,349.51H163.51M167.56,349.51H169.76M173.80,349.51H176.00M180.05,349.51H182.25M186.30,349.51H188.50M192.54,349.51H194.74M198.79,349.51H200.99M205.03,349.51H207.23M211.28,349.51H213.48M217.53,349.51H219.73M223.77,349.51H225.97M230.02,349.51H232.22M236.26,349.51H238.46M242.51,349.51H244.71M248.76,349.51H250.96M255.00,349.51H257.20M261.25,349.51H263.45M267.49,349.51H269.69M273.74,349.51H275.94M279.99,349.51H282.19M286.23,349.51H288.43M292.48,349.51H294.68M298.72,349.51H300.92M304.97,349.51H307.17M311.21,349.51H313.42M317.46,349.51H319.66M323.71,349.51H325.91M329.95,349.51H332.15M336.20,349.51H338.40M342.44,349.51H344.64M348.69,349.51H350.89M354.94,349.51H357.14M361.18,349.51H363.38M367.43,349.51H369.63M373.67,349.51H375.87M379.92,349.51H382.12M386.17,349.51H388.37M392.41,349.51H394.61M398.66,349.51H400.86M404.90,349.51H407.10M411.15,349.51H413.35M417.40,349.51H419.60M423.64,349.51H425.84M429.89,349.51H432.09M436.13,349.51H438.33M442.38,349.51H444.58M448.63,349.51H450.83M454.87,349.51H457.07M461.12,349.51H463.32M467.36,349.51H469.56M473.61,349.51H475.81M479.86,349.51H482.06M486.10,349.51H488.30M492.35,349.51H494.55M498.59,349.51H500.79M504.84,349.51H507.04M511.09,349.51H513.29M517.33,349.51H519.53M523.58,349.51H525.78M529.82,349.51H532.02M536.07,349.51H538.27M542.32,349.51H544.52M548.56,349.51H550.76M554.81,349.51H557.01M561.05,349.51H563.25M567.30,349.51H569.50M573.55,349.51H575.75M579.79,349.51H581.99M586.04,349.51H588.24M592.28,349.51H594.48M598.53,349.51H600.73M604.78,349.51H606.98M611.02,349.51H613.22M617.27,349.51H619.47M623.51,349.51H625.71M629.76,349.51H631.96M636.01,349.51H638.21M642.25,349.51H644.45M648.50,349.51H650.70M654.74,349.51H656.94" stroke="#e8202a" stroke-width="2.3" stroke-linecap="round" fill="none"/>
<rect x="32.80" y="205.80" width="625.50" height="160.20" fill="none" stroke="#1a1a1a" stroke-width="1.4"/>
<line x1="32.80" y1="287.00" x2="658.30" y2="287.00" stroke="#1a1a1a" stroke-width="1.6" />
<line x1="95.35" y1="205.80" x2="95.35" y2="210.40" stroke="#1a1a1a" stroke-width="1.2" />
<line x1="95.35" y1="282.40" x2="95.35" y2="291.00" stroke="#1a1a1a" stroke-width="1.2" />
<line x1="95.35" y1="366.00" x2="95.35" y2="362.20" stroke="#1a1a1a" stroke-width="1.2" />
<line x1="157.90" y1="205.80" x2="157.90" y2="210.40" stroke="#1a1a1a" stroke-width="1.2" />
<line x1="157.90" y1="282.40" x2="157.90" y2="291.00" stroke="#1a1a1a" stroke-width="1.2" />
<line x1="157.90" y1="366.00" x2="157.90" y2="362.20" stroke="#1a1a1a" stroke-width="1.2" />
<line x1="220.45" y1="205.80" x2="220.45" y2="210.40" stroke="#1a1a1a" stroke-width="1.2" />
<line x1="220.45" y1="282.40" x2="220.45" y2="291.00" stroke="#1a1a1a" stroke-width="1.2" />
<line x1="220.45" y1="366.00" x2="220.45" y2="362.20" stroke="#1a1a1a" stroke-width="1.2" />
<line x1="283.00" y1="205.80" x2="283.00" y2="210.40" stroke="#1a1a1a" stroke-width="1.2" />
<line x1="283.00" y1="282.40" x2="283.00" y2="291.00" stroke="#1a1a1a" stroke-width="1.2" />
<line x1="283.00" y1="366.00" x2="283.00" y2="362.20" stroke="#1a1a1a" stroke-width="1.2" />
<line x1="345.55" y1="205.80" x2="345.55" y2="210.40" stroke="#1a1a1a" stroke-width="1.2" />
<line x1="345.55" y1="282.40" x2="345.55" y2="291.00" stroke="#1a1a1a" stroke-width="1.2" />
<line x1="345.55" y1="366.00" x2="345.55" y2="362.20" stroke="#1a1a1a" stroke-width="1.2" />
<line x1="408.10" y1="205.80" x2="408.10" y2="210.40" stroke="#1a1a1a" stroke-width="1.2" />
<line x1="408.10" y1="282.40" x2="408.10" y2="291.00" stroke="#1a1a1a" stroke-width="1.2" />
<line x1="408.10" y1="366.00" x2="408.10" y2="362.20" stroke="#1a1a1a" stroke-width="1.2" />
<line x1="470.65" y1="205.80" x2="470.65" y2="210.40" stroke="#1a1a1a" stroke-width="1.2" />
<line x1="470.65" y1="282.40" x2="470.65" y2="291.00" stroke="#1a1a1a" stroke-width="1.2" />
<line x1="470.65" y1="366.00" x2="470.65" y2="362.20" stroke="#1a1a1a" stroke-width="1.2" />
<line x1="533.20" y1="205.80" x2="533.20" y2="210.40" stroke="#1a1a1a" stroke-width="1.2" />
<line x1="533.20" y1="282.40" x2="533.20" y2="291.00" stroke="#1a1a1a" stroke-width="1.2" />
<line x1="533.20" y1="366.00" x2="533.20" y2="362.20" stroke="#1a1a1a" stroke-width="1.2" />
<line x1="595.75" y1="205.80" x2="595.75" y2="210.40" stroke="#1a1a1a" stroke-width="1.2" />
<line x1="595.75" y1="282.40" x2="595.75" y2="291.00" stroke="#1a1a1a" stroke-width="1.2" />
<line x1="595.75" y1="366.00" x2="595.75" y2="362.20" stroke="#1a1a1a" stroke-width="1.2" />
<text x="33.10" y="377.90" font-size="10" text-anchor="middle" fill="#111" stroke="#111" >0</text>
<text x="94.55" y="377.90" font-size="10" text-anchor="middle" fill="#111" stroke="#111" >10</text>
<text x="157.10" y="377.90" font-size="10" text-anchor="middle" fill="#111" stroke="#111" >20</text>
<text x="219.65" y="377.90" font-size="10" text-anchor="middle" fill="#111" stroke="#111" >30</text>
<text x="282.20" y="377.90" font-size="10" text-anchor="middle" fill="#111" stroke="#111" >40</text>
<text x="344.75" y="377.90" font-size="10" text-anchor="middle" fill="#111" stroke="#111" >50</text>
<text x="407.30" y="377.90" font-size="10" text-anchor="middle" fill="#111" stroke="#111" >60</text>
<text x="469.85" y="377.90" font-size="10" text-anchor="middle" fill="#111" stroke="#111" >70</text>
<text x="532.40" y="377.90" font-size="10" text-anchor="middle" fill="#111" stroke="#111" >80</text>
<text x="594.95" y="377.90" font-size="10" text-anchor="middle" fill="#111" stroke="#111" >90</text>
<text x="654.70" y="376.90" font-size="10" text-anchor="middle" fill="#111" stroke="#111" >100</text>
<line x1="32.80" y1="260.60" x2="37.80" y2="260.60" stroke="#1a1a1a" stroke-width="1.2" />
<line x1="32.80" y1="340.90" x2="36.60" y2="340.90" stroke="#1a1a1a" stroke-width="1.2" />
<line x1="32.80" y1="233.20" x2="37.80" y2="233.20" stroke="#1a1a1a" stroke-width="1.2" />
<line x1="32.80" y1="314.40" x2="36.60" y2="314.40" stroke="#1a1a1a" stroke-width="1.2" />
<text x="27.80" y="264.10" font-size="10" text-anchor="end" fill="#111" stroke="#111" >8</text>
<text x="27.80" y="344.90" font-size="10" text-anchor="end" fill="#111" stroke="#111" >8</text>
<text x="27.80" y="236.70" font-size="10" text-anchor="end" fill="#111" stroke="#111" >10</text>
<text x="27.80" y="318.40" font-size="10" text-anchor="end" fill="#111" stroke="#111" >10</text>
<text x="27.80" y="210.80" font-size="10" text-anchor="end" fill="#111" stroke="#111" >12</text>
<text x="27.80" y="292.80" font-size="10" text-anchor="end" fill="#111" stroke="#111" >12</text>
<text transform="translate(12.40,248.20) rotate(-90)" font-size="10" text-anchor="middle" fill="#111" stroke="#111"><tspan font-style="italic">f</tspan> (GHz)</text>
<text transform="translate(12.20,329.30) rotate(-90)" font-size="10" text-anchor="middle" fill="#111" stroke="#111"><tspan font-style="italic">f</tspan> (GHz)</text>
<text x="344.50" y="391.00" font-size="10" text-anchor="middle" fill="#111" stroke="#111" >Cycles</text>
<text x="661.50" y="228.60" font-size="10" text-anchor="start" fill="#111" stroke="#111" >DW</text>
<text x="661.50" y="273.70" font-size="10" text-anchor="start" fill="#e0262c" stroke="#e0262c" >M1</text>
<text x="661.50" y="311.10" font-size="10" text-anchor="start" fill="#111" stroke="#111" >DW</text>
<text x="661.50" y="353.50" font-size="10" text-anchor="start" fill="#e0262c" stroke="#e0262c" >M1</text>
<text x="0.60" y="199.80" font-size="10.5" text-anchor="start" fill="#111" stroke="#111" font-weight="bold">d</text>
</svg>
</body></html>
